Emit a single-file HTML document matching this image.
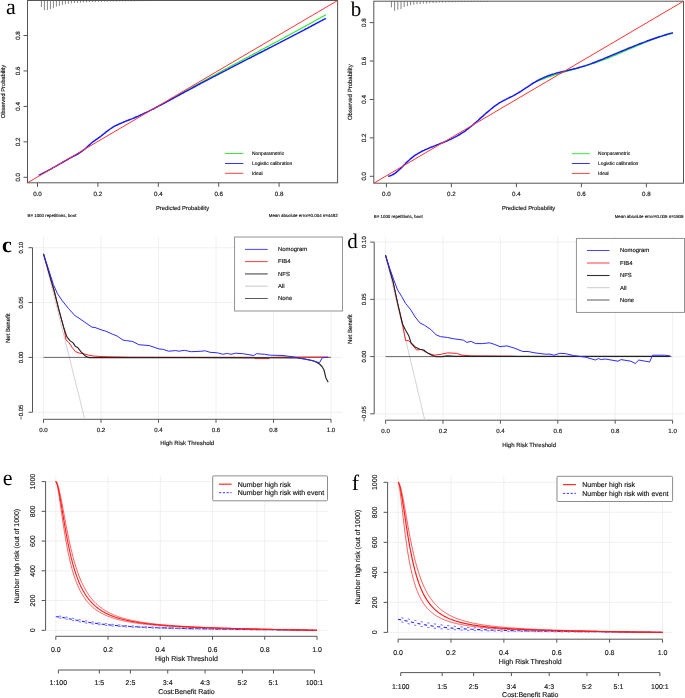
<!DOCTYPE html>
<html><head><meta charset="utf-8"><style>
html,body{margin:0;padding:0;background:#fff;}
svg{display:block;will-change:transform;}
text{dominant-baseline:central;text-rendering:geometricPrecision;}
.t{font-family:"Liberation Sans",sans-serif;fill:#111;stroke:#111;stroke-width:0.14px;}
.l{font-family:"Liberation Serif",serif;fill:#000;}
</style></head><body>
<svg width="685" height="698" viewBox="0 0 685 698">
<rect width="685" height="698" fill="#fff"/>
<line x1="41.40" y1="0.50" x2="41.40" y2="7.10" stroke="#777" stroke-width="0.9" />
<line x1="44.40" y1="0.50" x2="44.40" y2="10.10" stroke="#777" stroke-width="0.9" />
<line x1="47.40" y1="0.50" x2="47.40" y2="10.00" stroke="#777" stroke-width="0.9" />
<line x1="50.40" y1="0.50" x2="50.40" y2="9.00" stroke="#777" stroke-width="0.9" />
<line x1="53.40" y1="0.50" x2="53.40" y2="8.20" stroke="#777" stroke-width="0.9" />
<line x1="56.40" y1="0.50" x2="56.40" y2="6.60" stroke="#777" stroke-width="0.9" />
<line x1="59.40" y1="0.50" x2="59.40" y2="5.90" stroke="#777" stroke-width="0.9" />
<line x1="62.40" y1="0.50" x2="62.40" y2="4.90" stroke="#777" stroke-width="0.9" />
<line x1="65.40" y1="0.50" x2="65.40" y2="4.20" stroke="#777" stroke-width="0.9" />
<line x1="68.40" y1="0.50" x2="68.40" y2="3.80" stroke="#777" stroke-width="0.9" />
<line x1="71.40" y1="0.50" x2="71.40" y2="3.30" stroke="#777" stroke-width="0.9" />
<line x1="74.40" y1="0.50" x2="74.40" y2="3.10" stroke="#777" stroke-width="0.9" />
<line x1="77.40" y1="0.50" x2="77.40" y2="2.90" stroke="#777" stroke-width="0.9" />
<line x1="80.40" y1="0.50" x2="80.40" y2="2.70" stroke="#777" stroke-width="0.9" />
<line x1="83.40" y1="0.50" x2="83.40" y2="2.40" stroke="#777" stroke-width="0.9" />
<line x1="86.40" y1="0.50" x2="86.40" y2="2.40" stroke="#777" stroke-width="0.9" />
<line x1="89.40" y1="0.50" x2="89.40" y2="2.20" stroke="#777" stroke-width="0.9" />
<line x1="92.40" y1="0.50" x2="92.40" y2="2.10" stroke="#777" stroke-width="0.9" />
<line x1="95.40" y1="0.50" x2="95.40" y2="2.00" stroke="#777" stroke-width="0.9" />
<line x1="98.40" y1="0.50" x2="98.40" y2="1.90" stroke="#777" stroke-width="0.9" />
<line x1="101.40" y1="0.50" x2="101.40" y2="1.80" stroke="#777" stroke-width="0.9" />
<line x1="104.40" y1="0.50" x2="104.40" y2="1.70" stroke="#777" stroke-width="0.9" />
<line x1="107.40" y1="0.50" x2="107.40" y2="1.60" stroke="#777" stroke-width="0.9" />
<line x1="110.40" y1="0.50" x2="110.40" y2="1.50" stroke="#777" stroke-width="0.9" />
<line x1="113.40" y1="0.50" x2="113.40" y2="1.50" stroke="#777" stroke-width="0.9" />
<line x1="116.40" y1="0.50" x2="116.40" y2="1.50" stroke="#777" stroke-width="0.9" />
<line x1="119.40" y1="0.50" x2="119.40" y2="1.40" stroke="#777" stroke-width="0.9" />
<line x1="122.40" y1="0.50" x2="122.40" y2="1.40" stroke="#777" stroke-width="0.9" />
<line x1="125.40" y1="0.50" x2="125.40" y2="1.40" stroke="#777" stroke-width="0.9" />
<line x1="128.40" y1="0.50" x2="128.40" y2="1.30" stroke="#777" stroke-width="0.9" />
<line x1="131.40" y1="0.50" x2="131.40" y2="1.30" stroke="#777" stroke-width="0.9" />
<line x1="134.40" y1="0.50" x2="134.40" y2="1.30" stroke="#777" stroke-width="0.9" />
<line x1="137.40" y1="0.50" x2="137.40" y2="1.20" stroke="#777" stroke-width="0.9" />
<line x1="140.40" y1="0.50" x2="140.40" y2="1.20" stroke="#777" stroke-width="0.9" />
<line x1="143.40" y1="0.50" x2="143.40" y2="1.20" stroke="#777" stroke-width="0.9" />
<line x1="146.40" y1="0.50" x2="146.40" y2="1.10" stroke="#777" stroke-width="0.9" />
<line x1="149.40" y1="0.50" x2="149.40" y2="1.10" stroke="#777" stroke-width="0.9" />
<rect x="27.5" y="0.5" width="310.1" height="182.3" fill="none" stroke="#555" stroke-width="1"/>
<line x1="37.50" y1="182.80" x2="37.50" y2="186.80" stroke="#555" stroke-width="1" />
<text class="t" x="37.50" y="194.90" font-size="6.2" text-anchor="middle">0.0</text>
<line x1="97.90" y1="182.80" x2="97.90" y2="186.80" stroke="#555" stroke-width="1" />
<text class="t" x="97.90" y="194.90" font-size="6.2" text-anchor="middle">0.2</text>
<line x1="158.30" y1="182.80" x2="158.30" y2="186.80" stroke="#555" stroke-width="1" />
<text class="t" x="158.30" y="194.90" font-size="6.2" text-anchor="middle">0.4</text>
<line x1="218.70" y1="182.80" x2="218.70" y2="186.80" stroke="#555" stroke-width="1" />
<text class="t" x="218.70" y="194.90" font-size="6.2" text-anchor="middle">0.6</text>
<line x1="279.10" y1="182.80" x2="279.10" y2="186.80" stroke="#555" stroke-width="1" />
<text class="t" x="279.10" y="194.90" font-size="6.2" text-anchor="middle">0.8</text>
<line x1="27.50" y1="177.30" x2="23.50" y2="177.30" stroke="#555" stroke-width="1" />
<text class="t" x="18.30" y="177.30" font-size="6.2" text-anchor="middle" transform="rotate(-90 18.30 177.30)">0.0</text>
<line x1="27.50" y1="141.85" x2="23.50" y2="141.85" stroke="#555" stroke-width="1" />
<text class="t" x="18.30" y="141.85" font-size="6.2" text-anchor="middle" transform="rotate(-90 18.30 141.85)">0.2</text>
<line x1="27.50" y1="106.40" x2="23.50" y2="106.40" stroke="#555" stroke-width="1" />
<text class="t" x="18.30" y="106.40" font-size="6.2" text-anchor="middle" transform="rotate(-90 18.30 106.40)">0.4</text>
<line x1="27.50" y1="70.95" x2="23.50" y2="70.95" stroke="#555" stroke-width="1" />
<text class="t" x="18.30" y="70.95" font-size="6.2" text-anchor="middle" transform="rotate(-90 18.30 70.95)">0.6</text>
<line x1="27.50" y1="35.50" x2="23.50" y2="35.50" stroke="#555" stroke-width="1" />
<text class="t" x="18.30" y="35.50" font-size="6.2" text-anchor="middle" transform="rotate(-90 18.30 35.50)">0.8</text>
<text class="t" x="182.55" y="208.50" font-size="5.8" text-anchor="middle">Predicted Probability</text>
<text class="t" x="3.85" y="91.65" font-size="5.75" text-anchor="middle" transform="rotate(-90 3.85 91.65)">Observed Probability</text>
<text class="t" x="27.50" y="215.50" font-size="4.4">B= 1000 repetitions, boot</text>
<text class="t" x="337.60" y="215.50" font-size="4.4" text-anchor="end">Mean absolute error=0.004 n=4482</text>
<clipPath id="clip0"><rect x="27.5" y="0.5" width="310.1" height="182.3"/></clipPath>
<path d="M160.3,105.3 L162.4,104.1 L164.5,102.9 L166.6,101.7 L168.7,100.5 L170.8,99.3 L172.9,98.1 L175.0,96.9 L177.1,95.7 L179.2,94.5 L181.3,93.3 L183.4,92.2 L185.5,91.0 L187.6,89.8 L189.6,88.6 L191.7,87.5 L193.8,86.3 L195.9,85.2 L198.0,84.0 L200.1,82.9 L202.2,81.7 L204.3,80.6 L206.4,79.4 L208.5,78.3 L210.6,77.1 L212.7,76.0 L214.8,74.9 L216.9,73.7 L219.0,72.6 L221.1,71.5 L223.2,70.3 L225.3,69.2 L227.4,68.1 L229.5,66.9 L231.6,65.8 L233.7,64.7 L235.8,63.6 L237.9,62.5 L240.0,61.3 L242.1,60.2 L244.1,59.1 L246.2,58.0 L248.3,56.9 L250.4,55.7 L252.5,54.6 L254.6,53.5 L256.7,52.4 L258.8,51.3 L260.9,50.1 L263.0,49.0 L265.1,47.9 L267.2,46.8 L269.3,45.7 L271.4,44.5 L273.5,43.4 L275.6,42.3 L277.7,41.2 L279.8,40.0 L281.9,38.9 L284.0,37.8 L286.1,36.6 L288.2,35.5 L290.3,34.4 L292.4,33.2 L294.5,32.1 L296.6,30.9 L298.6,29.8 L300.7,28.7 L302.8,27.5 L304.9,26.4 L307.0,25.2 L309.1,24.1 L311.2,22.9 L313.3,21.7 L315.4,20.6 L317.5,19.4 L319.6,18.2 L321.7,17.1 L323.8,15.9 L325.9,14.7" fill="none" stroke="#22ee22" stroke-width="1.1" stroke-linejoin="round" />
<path d="M38.7,175.2 L40.1,174.6 L41.6,173.9 L43.0,173.2 L44.5,172.4 L45.9,171.7 L47.4,170.9 L48.8,170.1 L50.2,169.4 L51.7,168.6 L53.1,167.7 L54.6,166.9 L56.0,166.1 L57.5,165.3 L58.9,164.4 L60.3,163.6 L61.8,162.8 L63.2,162.0 L64.7,161.1 L66.1,160.3 L67.6,159.5 L69.0,158.7 L70.5,157.9 L71.9,157.2 L73.3,156.4 L74.8,155.6 L76.2,154.8 L77.7,154.0 L79.1,153.1 L80.6,152.2 L82.0,151.2 L83.4,150.1 L84.9,149.0 L86.3,147.7 L87.8,146.4 L89.2,145.1 L90.7,143.8 L92.1,142.5 L93.5,141.4 L95.0,140.4 L96.4,139.4 L97.9,138.4 L99.3,137.3 L100.8,136.3 L102.2,135.1 L103.6,134.0 L105.1,132.8 L106.5,131.7 L108.0,130.6 L109.4,129.5 L110.9,128.5 L112.3,127.6 L113.7,126.7 L115.2,125.9 L116.6,125.2 L118.1,124.5 L119.5,123.8 L121.0,123.2 L122.4,122.6 L123.8,122.0 L125.3,121.4 L126.7,120.8 L128.2,120.3 L129.6,119.7 L131.1,119.1 L132.5,118.6 L134.0,118.0 L135.4,117.3 L136.8,116.7 L138.3,116.1 L139.7,115.4 L141.2,114.8 L142.6,114.1 L144.1,113.4 L145.5,112.8 L146.9,112.1 L148.4,111.4 L149.8,110.6 L151.3,109.9 L152.7,109.2 L154.2,108.5 L155.6,107.7 L157.0,107.0 L158.5,106.2 L159.9,105.4 L161.4,104.7 L162.8,103.9 L164.3,103.1 L165.7,102.4 L167.1,101.6 L168.6,100.8 L170.0,100.0 L171.5,99.2 L172.9,98.5 L174.4,97.7 L175.8,96.9 L177.2,96.1 L178.7,95.3 L180.1,94.5 L181.6,93.7 L183.0,93.0 L184.5,92.2 L185.9,91.4 L187.4,90.6 L188.8,89.8 L190.2,89.1 L191.7,88.3 L193.1,87.5 L194.6,86.8 L196.0,86.0 L197.5,85.2 L198.9,84.5 L200.3,83.7 L201.8,82.9 L203.2,82.2 L204.7,81.4 L206.1,80.6 L207.6,79.9 L209.0,79.1 L210.4,78.4 L211.9,77.6 L213.3,76.9 L214.8,76.1 L216.2,75.4 L217.7,74.6 L219.1,73.8 L220.5,73.1 L222.0,72.3 L223.4,71.6 L224.9,70.9 L226.3,70.1 L227.8,69.4 L229.2,68.6 L230.6,67.9 L232.1,67.1 L233.5,66.4 L235.0,65.6 L236.4,64.9 L237.9,64.1 L239.3,63.4 L240.8,62.6 L242.2,61.9 L243.6,61.2 L245.1,60.4 L246.5,59.7 L248.0,58.9 L249.4,58.2 L250.9,57.5 L252.3,56.7 L253.7,56.0 L255.2,55.2 L256.6,54.5 L258.1,53.7 L259.5,53.0 L261.0,52.3 L262.4,51.5 L263.8,50.8 L265.3,50.0 L266.7,49.3 L268.2,48.5 L269.6,47.8 L271.1,47.1 L272.5,46.3 L273.9,45.6 L275.4,44.8 L276.8,44.1 L278.3,43.3 L279.7,42.6 L281.2,41.8 L282.6,41.1 L284.0,40.4 L285.5,39.6 L286.9,38.9 L288.4,38.1 L289.8,37.4 L291.3,36.6 L292.7,35.9 L294.1,35.1 L295.6,34.3 L297.0,33.6 L298.5,32.8 L299.9,32.1 L301.4,31.3 L302.8,30.6 L304.3,29.8 L305.7,29.0 L307.1,28.3 L308.6,27.5 L310.0,26.8 L311.5,26.0 L312.9,25.2 L314.4,24.5 L315.8,23.7 L317.2,22.9 L318.7,22.2 L320.1,21.4 L321.6,20.6 L323.0,19.8 L324.5,19.1 L325.9,18.3" fill="none" stroke="#1a1aff" stroke-width="1.5" stroke-linejoin="round" />
<line x1="27.50" y1="182.80" x2="337.60" y2="0.50" stroke="#ff3333" stroke-width="1" clip-path="url(#clip0)"/>
<line x1="225.00" y1="153.50" x2="243.30" y2="153.50" stroke="#33ee33" stroke-width="1" />
<text class="t" x="252.00" y="154.70" font-size="4.9">Nonparametric</text>
<line x1="225.00" y1="163.50" x2="243.30" y2="163.50" stroke="#3333ff" stroke-width="1" />
<text class="t" x="252.00" y="164.70" font-size="4.9">Logistic calibration</text>
<line x1="225.00" y1="173.30" x2="243.30" y2="173.30" stroke="#ff4444" stroke-width="1" />
<text class="t" x="252.00" y="174.50" font-size="4.9">Ideal</text>
<text class="l" x="10.80" y="6.10" font-size="22" text-anchor="middle">a</text>
<line x1="391.40" y1="1.20" x2="391.40" y2="7.40" stroke="#777" stroke-width="0.9" />
<line x1="394.60" y1="1.20" x2="394.60" y2="10.80" stroke="#777" stroke-width="0.9" />
<line x1="397.80" y1="1.20" x2="397.80" y2="9.90" stroke="#777" stroke-width="0.9" />
<line x1="401.00" y1="1.20" x2="401.00" y2="9.10" stroke="#777" stroke-width="0.9" />
<line x1="404.20" y1="1.20" x2="404.20" y2="7.00" stroke="#777" stroke-width="0.9" />
<line x1="407.40" y1="1.20" x2="407.40" y2="6.10" stroke="#777" stroke-width="0.9" />
<line x1="410.60" y1="1.20" x2="410.60" y2="5.20" stroke="#777" stroke-width="0.9" />
<line x1="413.80" y1="1.20" x2="413.80" y2="4.80" stroke="#777" stroke-width="0.9" />
<line x1="417.00" y1="1.20" x2="417.00" y2="4.30" stroke="#777" stroke-width="0.9" />
<line x1="420.20" y1="1.20" x2="420.20" y2="4.10" stroke="#777" stroke-width="0.9" />
<line x1="423.40" y1="1.20" x2="423.40" y2="3.60" stroke="#777" stroke-width="0.9" />
<line x1="426.60" y1="1.20" x2="426.60" y2="3.50" stroke="#777" stroke-width="0.9" />
<line x1="429.80" y1="1.20" x2="429.80" y2="3.20" stroke="#777" stroke-width="0.9" />
<line x1="433.00" y1="1.20" x2="433.00" y2="3.00" stroke="#777" stroke-width="0.9" />
<line x1="436.20" y1="1.20" x2="436.20" y2="2.80" stroke="#777" stroke-width="0.9" />
<line x1="439.40" y1="1.20" x2="439.40" y2="2.60" stroke="#777" stroke-width="0.9" />
<line x1="442.60" y1="1.20" x2="442.60" y2="2.50" stroke="#777" stroke-width="0.9" />
<line x1="445.80" y1="1.20" x2="445.80" y2="2.40" stroke="#777" stroke-width="0.9" />
<line x1="449.00" y1="1.20" x2="449.00" y2="2.30" stroke="#777" stroke-width="0.9" />
<line x1="452.20" y1="1.20" x2="452.20" y2="2.30" stroke="#777" stroke-width="0.9" />
<line x1="455.40" y1="1.20" x2="455.40" y2="2.20" stroke="#777" stroke-width="0.9" />
<line x1="458.60" y1="1.20" x2="458.60" y2="2.20" stroke="#777" stroke-width="0.9" />
<line x1="461.80" y1="1.20" x2="461.80" y2="2.10" stroke="#777" stroke-width="0.9" />
<line x1="465.00" y1="1.20" x2="465.00" y2="2.10" stroke="#777" stroke-width="0.9" />
<line x1="468.20" y1="1.20" x2="468.20" y2="2.10" stroke="#777" stroke-width="0.9" />
<line x1="471.40" y1="1.20" x2="471.40" y2="2.00" stroke="#777" stroke-width="0.9" />
<line x1="474.60" y1="1.20" x2="474.60" y2="2.00" stroke="#777" stroke-width="0.9" />
<line x1="477.80" y1="1.20" x2="477.80" y2="1.90" stroke="#777" stroke-width="0.9" />
<line x1="481.00" y1="1.20" x2="481.00" y2="1.90" stroke="#777" stroke-width="0.9" />
<line x1="484.20" y1="1.20" x2="484.20" y2="1.80" stroke="#777" stroke-width="0.9" />
<line x1="487.40" y1="1.20" x2="487.40" y2="1.80" stroke="#777" stroke-width="0.9" />
<rect x="373.8" y="1.2" width="309.7" height="182.0" fill="none" stroke="#555" stroke-width="1"/>
<line x1="386.40" y1="183.20" x2="386.40" y2="187.20" stroke="#555" stroke-width="1" />
<text class="t" x="386.40" y="194.90" font-size="6.2" text-anchor="middle">0.0</text>
<line x1="451.40" y1="183.20" x2="451.40" y2="187.20" stroke="#555" stroke-width="1" />
<text class="t" x="451.40" y="194.90" font-size="6.2" text-anchor="middle">0.2</text>
<line x1="516.40" y1="183.20" x2="516.40" y2="187.20" stroke="#555" stroke-width="1" />
<text class="t" x="516.40" y="194.90" font-size="6.2" text-anchor="middle">0.4</text>
<line x1="581.40" y1="183.20" x2="581.40" y2="187.20" stroke="#555" stroke-width="1" />
<text class="t" x="581.40" y="194.90" font-size="6.2" text-anchor="middle">0.6</text>
<line x1="646.40" y1="183.20" x2="646.40" y2="187.20" stroke="#555" stroke-width="1" />
<text class="t" x="646.40" y="194.90" font-size="6.2" text-anchor="middle">0.8</text>
<line x1="373.80" y1="176.30" x2="369.80" y2="176.30" stroke="#555" stroke-width="1" />
<text class="t" x="364.35" y="176.30" font-size="6.2" text-anchor="middle" transform="rotate(-90 364.35 176.30)">0.0</text>
<line x1="373.80" y1="137.88" x2="369.80" y2="137.88" stroke="#555" stroke-width="1" />
<text class="t" x="364.35" y="137.88" font-size="6.2" text-anchor="middle" transform="rotate(-90 364.35 137.88)">0.2</text>
<line x1="373.80" y1="99.46" x2="369.80" y2="99.46" stroke="#555" stroke-width="1" />
<text class="t" x="364.35" y="99.46" font-size="6.2" text-anchor="middle" transform="rotate(-90 364.35 99.46)">0.4</text>
<line x1="373.80" y1="61.04" x2="369.80" y2="61.04" stroke="#555" stroke-width="1" />
<text class="t" x="364.35" y="61.04" font-size="6.2" text-anchor="middle" transform="rotate(-90 364.35 61.04)">0.6</text>
<line x1="373.80" y1="22.62" x2="369.80" y2="22.62" stroke="#555" stroke-width="1" />
<text class="t" x="364.35" y="22.62" font-size="6.2" text-anchor="middle" transform="rotate(-90 364.35 22.62)">0.8</text>
<text class="t" x="528.65" y="208.50" font-size="5.8" text-anchor="middle">Predicted Probability</text>
<text class="t" x="350.90" y="92.20" font-size="6.0" text-anchor="middle" transform="rotate(-90 350.90 92.20)">Observed Probability</text>
<text class="t" x="373.80" y="216.00" font-size="4.4">B= 1000 repetitions, boot</text>
<text class="t" x="683.50" y="216.00" font-size="4.4" text-anchor="end">Mean absolute error=0.005 n=1909</text>
<clipPath id="clip342"><rect x="373.8" y="1.2" width="309.7" height="182.0"/></clipPath>
<path d="M532.7,83.1 L534.5,82.4 L536.2,81.6 L538.0,80.9 L539.8,80.2 L541.6,79.5 L543.3,78.9 L545.1,78.2 L546.9,77.6 L548.7,77.0 L550.4,76.4 L552.2,75.8 L554.0,75.2 L555.8,74.6 L557.5,74.1 L559.3,73.5 L561.1,73.0 L562.9,72.5 L564.6,72.0 L566.4,71.4 L568.2,70.9 L570.0,70.4 L571.7,69.9 L573.5,69.4 L575.3,68.9 L577.1,68.4 L578.8,67.9 L580.6,67.3 L582.4,66.8 L584.2,66.3 L585.9,65.8 L587.7,65.2 L589.5,64.7 L591.3,64.1 L593.0,63.5 L594.8,63.0 L596.6,62.4 L598.4,61.8 L600.1,61.1 L601.9,60.5 L603.7,59.8 L605.5,59.2 L607.2,58.5 L609.0,57.8 L610.8,57.1 L612.6,56.3 L614.3,55.6 L616.1,54.9 L617.9,54.1 L619.7,53.4 L621.4,52.6 L623.2,51.8 L625.0,51.1 L626.8,50.3 L628.5,49.5 L630.3,48.8 L632.1,48.0 L633.9,47.2 L635.6,46.5 L637.4,45.7 L639.2,45.0 L641.0,44.2 L642.7,43.5 L644.5,42.7 L646.3,42.0 L648.1,41.3 L649.8,40.6 L651.6,39.9 L653.4,39.3 L655.2,38.6 L656.9,38.0 L658.7,37.4 L660.5,36.8 L662.3,36.2 L664.0,35.6 L665.8,35.1 L667.6,34.6 L669.4,34.1 L671.1,33.6 L672.9,33.2" fill="none" stroke="#22ee22" stroke-width="1.1" stroke-linejoin="round" />
<path d="M388.1,176.3 L389.5,176.0 L391.0,175.5 L392.4,174.9 L393.8,174.0 L395.3,173.1 L396.7,171.9 L398.1,170.7 L399.5,169.4 L401.0,168.1 L402.4,166.7 L403.8,165.2 L405.3,163.8 L406.7,162.4 L408.1,161.0 L409.6,159.7 L411.0,158.4 L412.4,157.3 L413.9,156.2 L415.3,155.2 L416.7,154.3 L418.2,153.4 L419.6,152.6 L421.0,151.8 L422.4,151.0 L423.9,150.4 L425.3,149.7 L426.7,149.1 L428.2,148.5 L429.6,147.9 L431.0,147.3 L432.5,146.7 L433.9,146.1 L435.3,145.6 L436.8,145.0 L438.2,144.5 L439.6,143.9 L441.1,143.3 L442.5,142.8 L443.9,142.2 L445.3,141.6 L446.8,141.0 L448.2,140.4 L449.6,139.7 L451.1,139.1 L452.5,138.4 L453.9,137.7 L455.4,136.9 L456.8,136.2 L458.2,135.4 L459.7,134.5 L461.1,133.6 L462.5,132.7 L464.0,131.8 L465.4,130.8 L466.8,129.7 L468.2,128.6 L469.7,127.5 L471.1,126.4 L472.5,125.2 L474.0,123.9 L475.4,122.7 L476.8,121.5 L478.3,120.2 L479.7,118.9 L481.1,117.6 L482.6,116.4 L484.0,115.1 L485.4,113.8 L486.8,112.6 L488.3,111.4 L489.7,110.2 L491.1,109.0 L492.6,107.8 L494.0,106.7 L495.4,105.7 L496.9,104.6 L498.3,103.7 L499.7,102.7 L501.2,101.9 L502.6,101.1 L504.0,100.3 L505.5,99.6 L506.9,98.9 L508.3,98.2 L509.7,97.5 L511.2,96.8 L512.6,96.1 L514.0,95.3 L515.5,94.5 L516.9,93.7 L518.3,92.9 L519.8,92.0 L521.2,91.1 L522.6,90.1 L524.1,89.2 L525.5,88.2 L526.9,87.3 L528.4,86.3 L529.8,85.4 L531.2,84.4 L532.6,83.5 L534.1,82.6 L535.5,81.8 L536.9,81.0 L538.4,80.2 L539.8,79.5 L541.2,78.8 L542.7,78.1 L544.1,77.5 L545.5,76.9 L547.0,76.3 L548.4,75.8 L549.8,75.3 L551.3,74.8 L552.7,74.3 L554.1,73.9 L555.5,73.4 L557.0,73.0 L558.4,72.6 L559.8,72.3 L561.3,71.9 L562.7,71.6 L564.1,71.2 L565.6,70.9 L567.0,70.5 L568.4,70.2 L569.9,69.8 L571.3,69.5 L572.7,69.2 L574.2,68.8 L575.6,68.5 L577.0,68.1 L578.4,67.7 L579.9,67.3 L581.3,66.9 L582.7,66.5 L584.2,66.0 L585.6,65.6 L587.0,65.1 L588.5,64.6 L589.9,64.1 L591.3,63.6 L592.8,63.0 L594.2,62.5 L595.6,62.0 L597.0,61.4 L598.5,60.8 L599.9,60.3 L601.3,59.7 L602.8,59.1 L604.2,58.5 L605.6,57.9 L607.1,57.3 L608.5,56.7 L609.9,56.1 L611.4,55.5 L612.8,54.9 L614.2,54.3 L615.7,53.7 L617.1,53.1 L618.5,52.5 L619.9,51.9 L621.4,51.3 L622.8,50.7 L624.2,50.1 L625.7,49.5 L627.1,48.9 L628.5,48.3 L630.0,47.7 L631.4,47.2 L632.8,46.6 L634.3,46.0 L635.7,45.4 L637.1,44.9 L638.6,44.3 L640.0,43.7 L641.4,43.2 L642.8,42.6 L644.3,42.1 L645.7,41.6 L647.1,41.0 L648.6,40.5 L650.0,40.0 L651.4,39.5 L652.9,39.0 L654.3,38.5 L655.7,38.0 L657.2,37.5 L658.6,37.0 L660.0,36.5 L661.5,36.1 L662.9,35.6 L664.3,35.2 L665.7,34.7 L667.2,34.3 L668.6,33.9 L670.0,33.5 L671.5,33.1 L672.9,32.7" fill="none" stroke="#1a1aff" stroke-width="1.5" stroke-linejoin="round" />
<line x1="373.80" y1="183.20" x2="683.50" y2="1.20" stroke="#ff3333" stroke-width="1" clip-path="url(#clip342)"/>
<line x1="571.80" y1="153.70" x2="589.80" y2="153.70" stroke="#33ee33" stroke-width="1" />
<text class="t" x="598.10" y="154.90" font-size="4.9">Nonparametric</text>
<line x1="571.80" y1="163.50" x2="589.80" y2="163.50" stroke="#3333ff" stroke-width="1" />
<text class="t" x="598.10" y="164.70" font-size="4.9">Logistic calibration</text>
<line x1="571.80" y1="173.40" x2="589.80" y2="173.40" stroke="#ff4444" stroke-width="1" />
<text class="t" x="598.10" y="174.60" font-size="4.9">Ideal</text>
<text class="l" x="356.00" y="9.00" font-size="21" text-anchor="middle">b</text>
<line x1="43.50" y1="236.90" x2="43.50" y2="419.30" stroke="#ececec" stroke-width="0.8" />
<line x1="101.00" y1="236.90" x2="101.00" y2="419.30" stroke="#ececec" stroke-width="0.8" />
<line x1="158.50" y1="236.90" x2="158.50" y2="419.30" stroke="#ececec" stroke-width="0.8" />
<line x1="216.00" y1="236.90" x2="216.00" y2="419.30" stroke="#ececec" stroke-width="0.8" />
<line x1="273.50" y1="236.90" x2="273.50" y2="419.30" stroke="#ececec" stroke-width="0.8" />
<line x1="331.00" y1="236.90" x2="331.00" y2="419.30" stroke="#ececec" stroke-width="0.8" />
<line x1="32.50" y1="247.70" x2="342.50" y2="247.70" stroke="#ececec" stroke-width="0.8" />
<line x1="32.50" y1="302.55" x2="342.50" y2="302.55" stroke="#ececec" stroke-width="0.8" />
<line x1="32.50" y1="357.40" x2="342.50" y2="357.40" stroke="#ececec" stroke-width="0.8" />
<line x1="32.50" y1="412.25" x2="342.50" y2="412.25" stroke="#ececec" stroke-width="0.8" />
<line x1="32.50" y1="247.70" x2="32.50" y2="412.25" stroke="#555" stroke-width="1" />
<line x1="32.50" y1="247.70" x2="28.50" y2="247.70" stroke="#555" stroke-width="1" />
<text class="t" x="22.40" y="247.70" font-size="6.0" text-anchor="middle" transform="rotate(-90 22.40 247.70)">0.10</text>
<line x1="32.50" y1="302.55" x2="28.50" y2="302.55" stroke="#555" stroke-width="1" />
<text class="t" x="22.40" y="302.55" font-size="6.0" text-anchor="middle" transform="rotate(-90 22.40 302.55)">0.05</text>
<line x1="32.50" y1="357.40" x2="28.50" y2="357.40" stroke="#555" stroke-width="1" />
<text class="t" x="22.40" y="357.40" font-size="6.0" text-anchor="middle" transform="rotate(-90 22.40 357.40)">0.00</text>
<line x1="32.50" y1="412.25" x2="28.50" y2="412.25" stroke="#555" stroke-width="1" />
<text class="t" x="22.40" y="412.25" font-size="6.0" text-anchor="middle" transform="rotate(-90 22.40 412.25)">−0.05</text>
<line x1="43.50" y1="419.30" x2="331.00" y2="419.30" stroke="#555" stroke-width="1" />
<line x1="43.50" y1="419.30" x2="43.50" y2="422.80" stroke="#555" stroke-width="1" />
<text class="t" x="43.50" y="430.20" font-size="6.1" text-anchor="middle">0.0</text>
<line x1="101.00" y1="419.30" x2="101.00" y2="422.80" stroke="#555" stroke-width="1" />
<text class="t" x="101.00" y="430.20" font-size="6.1" text-anchor="middle">0.2</text>
<line x1="158.50" y1="419.30" x2="158.50" y2="422.80" stroke="#555" stroke-width="1" />
<text class="t" x="158.50" y="430.20" font-size="6.1" text-anchor="middle">0.4</text>
<line x1="216.00" y1="419.30" x2="216.00" y2="422.80" stroke="#555" stroke-width="1" />
<text class="t" x="216.00" y="430.20" font-size="6.1" text-anchor="middle">0.6</text>
<line x1="273.50" y1="419.30" x2="273.50" y2="422.80" stroke="#555" stroke-width="1" />
<text class="t" x="273.50" y="430.20" font-size="6.1" text-anchor="middle">0.8</text>
<line x1="331.00" y1="419.30" x2="331.00" y2="422.80" stroke="#555" stroke-width="1" />
<text class="t" x="331.00" y="430.20" font-size="6.1" text-anchor="middle">1.0</text>
<text class="t" x="187.25" y="444.40" font-size="6.0" text-anchor="middle">High Risk Threshold</text>
<text class="t" x="9.00" y="328.20" font-size="6.0" text-anchor="middle" transform="rotate(-90 9.00 328.20)">Net Benefit</text>
<clipPath id="clipd0"><rect x="32.5" y="236.9" width="310.0" height="182.4"/></clipPath>
<line x1="43.50" y1="253.90" x2="84.80" y2="419.30" stroke="#c8c8c8" stroke-width="0.8" />
<line x1="43.50" y1="357.40" x2="331.00" y2="357.40" stroke="#666" stroke-width="1" />
<path d="M43.5,253.9 L54.2,291.0 L58.9,309.8 L63.6,327.2 L64.4,330.3 L66.0,339.8 L69.1,342.9 L72.3,347.6 L75.4,351.6 L79.4,353.1 L84.1,353.9 L88.8,355.2 L93.5,356.0 L100.0,356.5 L110.0,356.8 L130.0,357.2 L180.0,357.3 L254.0,357.4 L255.0,358.6 L269.0,358.6 L270.0,357.5 L283.0,357.1 L328.2,357.0" fill="none" stroke="#ff2020" stroke-width="1" stroke-linejoin="round" />
<path d="M43.5,253.9 L54.2,291.0 L58.9,309.8 L63.6,327.2 L66.8,336.6 L69.9,340.6 L73.1,342.9 L75.4,346.4 L77.8,347.6 L80.9,351.6 L85.7,356.3 L88.8,357.6 L200.0,357.6 L297.6,358.0 L305.0,359.0 L312.2,360.5 L316.0,362.0 L319.5,364.0 L322.0,366.5 L324.0,370.0 L325.9,378.0 L328.2,382.2" fill="none" stroke="#222" stroke-width="1.1" stroke-linejoin="round" />
<path d="M43.5,253.9 L47.9,267.3 L53.4,284.6 L57.3,293.3 L62.0,300.4 L68.3,308.3 L75.4,316.1 L77.8,317.4 L84.1,321.7 L92.0,327.2 L95.0,327.5 L102.0,330.1 L105.5,331.0 L112.5,334.2 L116.9,335.9 L123.0,340.1 L126.5,340.6 L132.7,341.5 L138.8,344.7 L149.3,345.6 L158.9,348.9 L163.3,349.4 L168.6,351.2 L175.6,350.6 L179.1,351.2 L184.3,350.3 L191.3,351.7 L200.1,351.3 L205.3,350.8 L210.0,352.3 L217.3,352.8 L222.8,354.3 L227.3,353.4 L231.0,354.3 L235.5,353.2 L242.8,353.7 L253.8,355.5 L256.5,353.7 L264.7,354.3 L270.2,355.2 L283.0,355.5 L293.9,357.0 L304.9,359.2 L314.0,361.0 L319.5,362.8 L322.2,357.7 L328.2,357.4" fill="none" stroke="#2a2aff" stroke-width="1" stroke-linejoin="round" />
<rect x="234.6" y="237" width="107.9" height="74" fill="#fff" stroke="#888" stroke-width="0.9"/>
<line x1="245.00" y1="249.40" x2="267.70" y2="249.40" stroke="#4646ff" stroke-width="1" />
<text class="t" x="278.10" y="250.20" font-size="5.9">Nomogram</text>
<line x1="245.00" y1="261.60" x2="267.70" y2="261.60" stroke="#ff3c3c" stroke-width="1" />
<text class="t" x="278.10" y="262.40" font-size="5.9">FIB4</text>
<line x1="245.00" y1="273.90" x2="267.70" y2="273.90" stroke="#8a8a8a" stroke-width="1.7" />
<text class="t" x="278.10" y="274.70" font-size="5.9">NFS</text>
<line x1="245.00" y1="286.20" x2="267.70" y2="286.20" stroke="#bdbdbd" stroke-width="0.8" />
<text class="t" x="278.10" y="287.00" font-size="5.9">All</text>
<line x1="245.00" y1="298.50" x2="267.70" y2="298.50" stroke="#5a5a5a" stroke-width="1" />
<text class="t" x="278.10" y="299.30" font-size="5.9">None</text>
<text class="l" x="7.00" y="244.40" font-size="22" text-anchor="middle" font-weight="bold">c</text>
<line x1="385.60" y1="236.90" x2="385.60" y2="420.20" stroke="#ececec" stroke-width="0.8" />
<line x1="443.00" y1="236.90" x2="443.00" y2="420.20" stroke="#ececec" stroke-width="0.8" />
<line x1="500.40" y1="236.90" x2="500.40" y2="420.20" stroke="#ececec" stroke-width="0.8" />
<line x1="557.80" y1="236.90" x2="557.80" y2="420.20" stroke="#ececec" stroke-width="0.8" />
<line x1="615.20" y1="236.90" x2="615.20" y2="420.20" stroke="#ececec" stroke-width="0.8" />
<line x1="672.60" y1="236.90" x2="672.60" y2="420.20" stroke="#ececec" stroke-width="0.8" />
<line x1="374.20" y1="242.10" x2="684.50" y2="242.10" stroke="#ececec" stroke-width="0.8" />
<line x1="374.20" y1="299.35" x2="684.50" y2="299.35" stroke="#ececec" stroke-width="0.8" />
<line x1="374.20" y1="356.60" x2="684.50" y2="356.60" stroke="#ececec" stroke-width="0.8" />
<line x1="374.20" y1="413.85" x2="684.50" y2="413.85" stroke="#ececec" stroke-width="0.8" />
<line x1="374.20" y1="242.10" x2="374.20" y2="413.85" stroke="#555" stroke-width="1" />
<line x1="374.20" y1="242.10" x2="370.20" y2="242.10" stroke="#555" stroke-width="1" />
<text class="t" x="364.90" y="242.10" font-size="6.0" text-anchor="middle" transform="rotate(-90 364.90 242.10)">0.10</text>
<line x1="374.20" y1="299.35" x2="370.20" y2="299.35" stroke="#555" stroke-width="1" />
<text class="t" x="364.90" y="299.35" font-size="6.0" text-anchor="middle" transform="rotate(-90 364.90 299.35)">0.05</text>
<line x1="374.20" y1="356.60" x2="370.20" y2="356.60" stroke="#555" stroke-width="1" />
<text class="t" x="364.90" y="356.60" font-size="6.0" text-anchor="middle" transform="rotate(-90 364.90 356.60)">0.00</text>
<line x1="374.20" y1="413.85" x2="370.20" y2="413.85" stroke="#555" stroke-width="1" />
<text class="t" x="364.90" y="413.85" font-size="6.0" text-anchor="middle" transform="rotate(-90 364.90 413.85)">−0.05</text>
<line x1="385.60" y1="420.20" x2="672.60" y2="420.20" stroke="#555" stroke-width="1" />
<line x1="385.60" y1="420.20" x2="385.60" y2="423.70" stroke="#555" stroke-width="1" />
<text class="t" x="385.60" y="431.50" font-size="6.1" text-anchor="middle">0.0</text>
<line x1="443.00" y1="420.20" x2="443.00" y2="423.70" stroke="#555" stroke-width="1" />
<text class="t" x="443.00" y="431.50" font-size="6.1" text-anchor="middle">0.2</text>
<line x1="500.40" y1="420.20" x2="500.40" y2="423.70" stroke="#555" stroke-width="1" />
<text class="t" x="500.40" y="431.50" font-size="6.1" text-anchor="middle">0.4</text>
<line x1="557.80" y1="420.20" x2="557.80" y2="423.70" stroke="#555" stroke-width="1" />
<text class="t" x="557.80" y="431.50" font-size="6.1" text-anchor="middle">0.6</text>
<line x1="615.20" y1="420.20" x2="615.20" y2="423.70" stroke="#555" stroke-width="1" />
<text class="t" x="615.20" y="431.50" font-size="6.1" text-anchor="middle">0.8</text>
<line x1="672.60" y1="420.20" x2="672.60" y2="423.70" stroke="#555" stroke-width="1" />
<text class="t" x="672.60" y="431.50" font-size="6.1" text-anchor="middle">1.0</text>
<text class="t" x="529.10" y="445.60" font-size="6.0" text-anchor="middle">High Risk Threshold</text>
<text class="t" x="350.60" y="329.10" font-size="6.0" text-anchor="middle" transform="rotate(-90 350.60 329.10)">Net Benefit</text>
<clipPath id="clipd342"><rect x="374.2" y="236.9" width="310.3" height="183.29999999999998"/></clipPath>
<line x1="385.50" y1="255.20" x2="424.80" y2="420.20" stroke="#c8c8c8" stroke-width="0.8" />
<line x1="385.60" y1="356.60" x2="671.50" y2="356.60" stroke="#666" stroke-width="1" />
<path d="M385.5,255.2 L393.0,281.5 L397.7,303.5 L402.5,324.0 L405.6,340.6 L408.8,340.6 L411.9,344.5 L416.6,350.0 L421.4,349.5 L427.7,353.1 L434.0,355.2 L440.0,354.5 L447.5,352.9 L456.3,353.3 L461.5,355.0 L470.0,355.9 L515.8,356.3" fill="none" stroke="#ff2020" stroke-width="1" stroke-linejoin="round" />
<path d="M385.5,255.2 L393.0,281.5 L397.7,303.5 L402.5,324.0 L405.6,330.3 L408.8,335.8 L411.1,342.9 L415.1,346.9 L419.8,349.2 L423.7,350.0 L427.7,353.1 L432.4,355.5 L436.3,356.8 L442.0,356.6 L447.5,355.9 L455.0,356.4 L670.0,356.4" fill="none" stroke="#222" stroke-width="1.1" stroke-linejoin="round" />
<path d="M385.5,255.2 L389.9,268.9 L393.8,279.9 L397.7,290.2 L401.7,296.5 L405.6,303.5 L410.3,309.1 L415.1,316.9 L419.8,322.8 L424.5,325.3 L430.8,329.5 L436.3,335.0 L440.5,336.6 L447.5,337.5 L454.5,338.9 L463.3,340.1 L466.8,342.4 L471.2,341.4 L475.5,343.6 L482.5,343.6 L489.5,342.8 L494.8,344.5 L500.0,346.6 L507.0,345.9 L514.0,348.0 L522.8,351.5 L528.0,351.5 L535.0,352.9 L545.6,354.2 L550.0,354.1 L553.9,355.2 L559.9,353.3 L565.8,353.7 L573.7,355.6 L585.5,357.2 L595.4,360.0 L598.3,358.6 L601.3,359.6 L605.2,359.0 L618.0,361.2 L621.0,359.6 L630.9,361.2 L635.2,363.5 L638.8,360.0 L649.6,362.0 L652.6,355.2 L664.4,355.2 L670.3,356.0" fill="none" stroke="#2a2aff" stroke-width="1" stroke-linejoin="round" />
<rect x="576.4" y="238.4" width="108.10000000000002" height="73.99999999999997" fill="#fff" stroke="#888" stroke-width="0.9"/>
<line x1="587.00" y1="250.50" x2="609.50" y2="250.50" stroke="#4646ff" stroke-width="1" />
<text class="t" x="620.00" y="251.30" font-size="5.9">Nomogram</text>
<line x1="587.00" y1="263.00" x2="609.50" y2="263.00" stroke="#ff3c3c" stroke-width="1" />
<text class="t" x="620.00" y="263.80" font-size="5.9">FIB4</text>
<line x1="587.00" y1="275.50" x2="609.50" y2="275.50" stroke="#333" stroke-width="1.1" />
<text class="t" x="620.00" y="276.30" font-size="5.9">NFS</text>
<line x1="587.00" y1="287.70" x2="609.50" y2="287.70" stroke="#bdbdbd" stroke-width="0.8" />
<text class="t" x="620.00" y="288.50" font-size="5.9">All</text>
<line x1="587.00" y1="300.00" x2="609.50" y2="300.00" stroke="#5a5a5a" stroke-width="1" />
<text class="t" x="620.00" y="300.80" font-size="5.9">None</text>
<text class="l" x="352.50" y="241.00" font-size="21" text-anchor="middle">d</text>
<line x1="55.80" y1="475.80" x2="55.80" y2="636.30" stroke="#ececec" stroke-width="0.8" />
<line x1="108.04" y1="475.80" x2="108.04" y2="636.30" stroke="#ececec" stroke-width="0.8" />
<line x1="160.28" y1="475.80" x2="160.28" y2="636.30" stroke="#ececec" stroke-width="0.8" />
<line x1="212.52" y1="475.80" x2="212.52" y2="636.30" stroke="#ececec" stroke-width="0.8" />
<line x1="264.76" y1="475.80" x2="264.76" y2="636.30" stroke="#ececec" stroke-width="0.8" />
<line x1="317.00" y1="475.80" x2="317.00" y2="636.30" stroke="#ececec" stroke-width="0.8" />
<line x1="45.60" y1="630.30" x2="327.50" y2="630.30" stroke="#ececec" stroke-width="0.8" />
<line x1="45.60" y1="600.56" x2="327.50" y2="600.56" stroke="#ececec" stroke-width="0.8" />
<line x1="45.60" y1="570.82" x2="327.50" y2="570.82" stroke="#ececec" stroke-width="0.8" />
<line x1="45.60" y1="541.08" x2="327.50" y2="541.08" stroke="#ececec" stroke-width="0.8" />
<line x1="45.60" y1="511.34" x2="327.50" y2="511.34" stroke="#ececec" stroke-width="0.8" />
<line x1="45.60" y1="481.60" x2="327.50" y2="481.60" stroke="#ececec" stroke-width="0.8" />
<line x1="45.60" y1="481.60" x2="45.60" y2="630.30" stroke="#555" stroke-width="1" />
<line x1="45.60" y1="630.30" x2="41.60" y2="630.30" stroke="#555" stroke-width="1" />
<text class="t" x="33.80" y="630.30" font-size="7.0" text-anchor="middle" transform="rotate(-90 33.80 630.30)">0</text>
<line x1="45.60" y1="600.56" x2="41.60" y2="600.56" stroke="#555" stroke-width="1" />
<text class="t" x="33.80" y="600.56" font-size="7.0" text-anchor="middle" transform="rotate(-90 33.80 600.56)">200</text>
<line x1="45.60" y1="570.82" x2="41.60" y2="570.82" stroke="#555" stroke-width="1" />
<text class="t" x="33.80" y="570.82" font-size="7.0" text-anchor="middle" transform="rotate(-90 33.80 570.82)">400</text>
<line x1="45.60" y1="541.08" x2="41.60" y2="541.08" stroke="#555" stroke-width="1" />
<text class="t" x="33.80" y="541.08" font-size="7.0" text-anchor="middle" transform="rotate(-90 33.80 541.08)">600</text>
<line x1="45.60" y1="511.34" x2="41.60" y2="511.34" stroke="#555" stroke-width="1" />
<text class="t" x="33.80" y="511.34" font-size="7.0" text-anchor="middle" transform="rotate(-90 33.80 511.34)">800</text>
<line x1="45.60" y1="481.60" x2="41.60" y2="481.60" stroke="#555" stroke-width="1" />
<text class="t" x="33.80" y="481.60" font-size="7.0" text-anchor="middle" transform="rotate(-90 33.80 481.60)">1000</text>
<text class="t" x="17.50" y="556.10" font-size="7.0" text-anchor="middle" transform="rotate(-90 17.50 556.10)">Number high risk (out of 1000)</text>
<line x1="55.80" y1="636.30" x2="317.00" y2="636.30" stroke="#555" stroke-width="1" />
<line x1="55.80" y1="636.30" x2="55.80" y2="639.80" stroke="#555" stroke-width="1" />
<text class="t" x="55.80" y="650.30" font-size="7.0" text-anchor="middle">0.0</text>
<line x1="108.04" y1="636.30" x2="108.04" y2="639.80" stroke="#555" stroke-width="1" />
<text class="t" x="108.04" y="650.30" font-size="7.0" text-anchor="middle">0.2</text>
<line x1="160.28" y1="636.30" x2="160.28" y2="639.80" stroke="#555" stroke-width="1" />
<text class="t" x="160.28" y="650.30" font-size="7.0" text-anchor="middle">0.4</text>
<line x1="212.52" y1="636.30" x2="212.52" y2="639.80" stroke="#555" stroke-width="1" />
<text class="t" x="212.52" y="650.30" font-size="7.0" text-anchor="middle">0.6</text>
<line x1="264.76" y1="636.30" x2="264.76" y2="639.80" stroke="#555" stroke-width="1" />
<text class="t" x="264.76" y="650.30" font-size="7.0" text-anchor="middle">0.8</text>
<line x1="317.00" y1="636.30" x2="317.00" y2="639.80" stroke="#555" stroke-width="1" />
<text class="t" x="317.00" y="650.30" font-size="7.0" text-anchor="middle">1.0</text>
<text class="t" x="186.40" y="659.30" font-size="7.0" text-anchor="middle">High Risk Threshold</text>
<line x1="58.39" y1="670.00" x2="314.41" y2="670.00" stroke="#555" stroke-width="1" />
<line x1="58.39" y1="670.00" x2="58.39" y2="673.50" stroke="#555" stroke-width="1" />
<text class="t" x="58.39" y="683.70" font-size="7.0" text-anchor="middle">1:100</text>
<line x1="99.33" y1="670.00" x2="99.33" y2="673.50" stroke="#555" stroke-width="1" />
<text class="t" x="99.33" y="683.70" font-size="7.0" text-anchor="middle">1:5</text>
<line x1="130.43" y1="670.00" x2="130.43" y2="673.50" stroke="#555" stroke-width="1" />
<text class="t" x="130.43" y="683.70" font-size="7.0" text-anchor="middle">2:5</text>
<line x1="167.74" y1="670.00" x2="167.74" y2="673.50" stroke="#555" stroke-width="1" />
<text class="t" x="167.74" y="683.70" font-size="7.0" text-anchor="middle">3:4</text>
<line x1="205.06" y1="670.00" x2="205.06" y2="673.50" stroke="#555" stroke-width="1" />
<text class="t" x="205.06" y="683.70" font-size="7.0" text-anchor="middle">4:3</text>
<line x1="242.37" y1="670.00" x2="242.37" y2="673.50" stroke="#555" stroke-width="1" />
<text class="t" x="242.37" y="683.70" font-size="7.0" text-anchor="middle">5:2</text>
<line x1="273.47" y1="670.00" x2="273.47" y2="673.50" stroke="#555" stroke-width="1" />
<text class="t" x="273.47" y="683.70" font-size="7.0" text-anchor="middle">5:1</text>
<line x1="314.41" y1="670.00" x2="314.41" y2="673.50" stroke="#555" stroke-width="1" />
<text class="t" x="314.41" y="683.70" font-size="7.0" text-anchor="middle">100:1</text>
<text class="t" x="186.40" y="692.20" font-size="7.0" text-anchor="middle">Cost:Benefit Ratio</text>
<path d="M55.8,615.8 L55.8,615.8 L55.8,615.8 L55.8,615.8 L55.8,615.8 L55.8,615.8 L55.9,615.8 L55.9,615.8 L55.9,615.8 L55.9,615.8 L56.0,615.8 L56.0,615.8 L56.0,615.8 L56.1,615.8 L56.1,615.8 L56.2,615.8 L56.2,615.8 L56.3,615.8 L56.3,615.8 L56.4,615.8 L56.5,615.8 L56.5,615.8 L56.6,615.8 L56.7,615.8 L56.7,615.8 L56.8,615.8 L56.9,615.8 L57.0,615.8 L57.1,615.8 L57.2,615.9 L57.3,615.9 L57.4,615.9 L57.5,615.9 L57.6,615.9 L57.7,615.9 L57.8,615.9 L57.9,615.9 L58.0,615.9 L58.2,615.9 L58.3,615.9 L58.4,616.0 L58.6,616.0 L58.7,616.0 L58.8,616.0 L59.0,616.0 L59.1,616.0 L59.3,616.0 L59.4,616.1 L59.6,616.1 L59.7,616.1 L59.9,616.1 L60.1,616.1 L60.2,616.2 L60.4,616.2 L60.6,616.2 L60.8,616.2 L60.9,616.3 L61.1,616.3 L61.3,616.3 L61.5,616.3 L61.7,616.4 L61.9,616.4 L62.1,616.4 L62.3,616.5 L62.5,616.5 L62.7,616.5 L62.9,616.6 L63.2,616.6 L63.4,616.6 L63.6,616.7 L63.8,616.7 L64.1,616.7 L64.3,616.8 L64.5,616.8 L64.8,616.9 L65.0,616.9 L65.3,617.0 L65.5,617.0 L65.8,617.0 L66.0,617.1 L66.3,617.1 L66.6,617.2 L66.8,617.2 L67.1,617.3 L67.4,617.3 L67.7,617.4 L67.9,617.4 L68.2,617.5 L68.5,617.5 L68.8,617.6 L69.1,617.7 L69.4,617.7 L69.7,617.8 L70.0,617.8 L70.3,617.9 L70.6,618.0 L70.9,618.0 L71.2,618.1 L71.6,618.1 L71.9,618.2 L72.2,618.3 L72.5,618.3 L72.9,618.4 L73.2,618.5 L73.5,618.5 L73.9,618.6 L74.2,618.7 L74.6,618.7 L74.9,618.8 L75.3,618.9 L75.7,618.9 L76.0,619.0 L76.4,619.1 L76.8,619.1 L77.1,619.2 L77.5,619.3 L77.9,619.4 L78.3,619.4 L78.6,619.5 L79.0,619.6 L79.4,619.7 L79.8,619.7 L80.2,619.8 L80.6,619.9 L81.0,620.0 L81.4,620.0 L81.8,620.1 L82.3,620.2 L82.7,620.3 L83.1,620.3 L83.5,620.4 L84.0,620.5 L84.4,620.6 L84.8,620.6 L85.3,620.7 L85.7,620.8 L86.1,620.9 L86.6,620.9 L87.0,621.0 L87.5,621.1 L88.0,621.2 L88.4,621.2 L88.9,621.3 L89.4,621.4 L89.8,621.5 L90.3,621.5 L90.8,621.6 L91.3,621.7 L91.7,621.8 L92.2,621.8 L92.7,621.9 L93.2,622.0 L93.7,622.1 L94.2,622.1 L94.7,622.2 L95.2,622.3 L95.7,622.4 L96.2,622.4 L96.8,622.5 L97.3,622.6 L97.8,622.6 L98.3,622.7 L98.9,622.8 L99.4,622.9 L99.9,622.9 L100.5,623.0 L101.0,623.1 L101.6,623.1 L102.1,623.2 L102.7,623.3 L103.2,623.3 L103.8,623.4 L104.3,623.5 L104.9,623.5 L105.5,623.6 L106.0,623.7 L106.6,623.7 L107.2,623.8 L107.8,623.9 L108.4,623.9 L109.0,624.0 L109.6,624.0 L110.1,624.1 L110.7,624.2 L111.3,624.2 L112.0,624.3 L112.6,624.3 L113.2,624.4 L113.8,624.5 L114.4,624.5 L115.0,624.6 L115.7,624.6 L116.3,624.7 L116.9,624.7 L117.5,624.8 L118.2,624.9 L118.8,624.9 L119.5,625.0 L120.1,625.0 L120.8,625.1 L121.4,625.1 L122.1,625.2 L122.7,625.2 L123.4,625.3 L124.1,625.3 L124.8,625.4 L125.4,625.4 L126.1,625.5 L126.8,625.5 L127.5,625.6 L128.2,625.6 L128.8,625.7 L129.5,625.7 L130.2,625.8 L130.9,625.8 L131.6,625.9 L132.3,625.9 L133.1,626.0 L133.8,626.0 L134.5,626.0 L135.2,626.1 L135.9,626.1 L136.7,626.2 L137.4,626.2 L138.1,626.3 L138.9,626.3 L139.6,626.3 L140.3,626.4 L141.1,626.4 L141.8,626.5 L142.6,626.5 L143.3,626.5 L144.1,626.6 L144.9,626.6 L145.6,626.7 L146.4,626.7 L147.2,626.7 L148.0,626.8 L148.7,626.8 L149.5,626.8 L150.3,626.9 L151.1,626.9 L151.9,627.0 L152.7,627.0 L153.5,627.0 L154.3,627.1 L155.1,627.1 L155.9,627.1 L156.7,627.2 L157.5,627.2 L158.3,627.2 L159.2,627.3 L160.0,627.3 L160.8,627.3 L161.7,627.4 L162.5,627.4 L163.3,627.4 L164.2,627.4 L165.0,627.5 L165.9,627.5 L166.7,627.5 L167.6,627.6 L168.4,627.6 L169.3,627.6 L170.1,627.7 L171.0,627.7 L171.9,627.7 L172.8,627.7 L173.6,627.8 L174.5,627.8 L175.4,627.8 L176.3,627.8 L177.2,627.9 L178.1,627.9 L179.0,627.9 L179.9,628.0 L180.8,628.0 L181.7,628.0 L182.6,628.0 L183.5,628.1 L184.4,628.1 L185.4,628.1 L186.3,628.1 L187.2,628.2 L188.1,628.2 L189.1,628.2 L190.0,628.2 L190.9,628.2 L191.9,628.3 L192.8,628.3 L193.8,628.3 L194.7,628.3 L195.7,628.4 L196.7,628.4 L197.6,628.4 L198.6,628.4 L199.6,628.4 L200.5,628.5 L201.5,628.5 L202.5,628.5 L203.5,628.5 L204.4,628.6 L205.4,628.6 L206.4,628.6 L207.4,628.6 L208.4,628.6 L209.4,628.7 L210.4,628.7 L211.4,628.7 L212.5,628.7 L213.5,628.7 L214.5,628.8 L215.5,628.8 L216.5,628.8 L217.6,628.8 L218.6,628.8 L219.6,628.9 L220.7,628.9 L221.7,628.9 L222.8,628.9 L223.8,628.9 L224.9,629.0 L225.9,629.0 L227.0,629.0 L228.0,629.0 L229.1,629.0 L230.2,629.0 L231.2,629.1 L232.3,629.1 L233.4,629.1 L234.5,629.1 L235.6,629.1 L236.6,629.2 L237.7,629.2 L238.8,629.2 L239.9,629.2 L241.0,629.2 L242.1,629.2 L243.2,629.3 L244.4,629.3 L245.5,629.3 L246.6,629.3 L247.7,629.3 L248.8,629.3 L250.0,629.4 L251.1,629.4 L252.2,629.4 L253.4,629.4 L254.5,629.4 L255.6,629.5 L256.8,629.5 L257.9,629.5 L259.1,629.5 L260.2,629.5 L261.4,629.5 L262.6,629.6 L263.7,629.6 L264.9,629.6 L266.1,629.6 L267.3,629.6 L268.4,629.6 L269.6,629.7 L270.8,629.7 L272.0,629.7 L273.2,629.7 L274.4,629.7 L275.6,629.7 L276.8,629.8 L278.0,629.8 L279.2,629.8 L280.4,629.8 L281.6,629.8 L282.8,629.8 L284.1,629.9 L285.3,629.9 L286.5,629.9 L287.8,629.9 L289.0,629.9 L290.2,629.9 L291.5,630.0 L292.7,630.0 L294.0,630.0 L295.2,630.0 L296.5,630.0 L297.7,630.0 L299.0,630.1 L300.3,630.1 L301.5,630.1 L302.8,630.1 L304.1,630.1 L305.3,630.1 L306.6,630.2 L307.9,630.2 L309.2,630.2 L310.5,630.2 L311.8,630.2 L313.1,630.2 L314.4,630.3 L315.7,630.3 L317.0,630.3" fill="none" stroke="#4545ff" stroke-width="0.9" stroke-linejoin="round" stroke-dasharray="2.2 4.5" stroke-dashoffset="-3.4"/>
<path d="M55.8,617.7 L55.8,617.7 L55.8,617.7 L55.8,617.7 L55.8,617.7 L55.8,617.7 L55.9,617.7 L55.9,617.7 L55.9,617.7 L55.9,617.7 L56.0,617.7 L56.0,617.7 L56.0,617.7 L56.1,617.7 L56.1,617.7 L56.2,617.7 L56.2,617.7 L56.3,617.7 L56.3,617.7 L56.4,617.7 L56.5,617.7 L56.5,617.7 L56.6,617.7 L56.7,617.7 L56.7,617.7 L56.8,617.7 L56.9,617.7 L57.0,617.7 L57.1,617.8 L57.2,617.8 L57.3,617.8 L57.4,617.8 L57.5,617.8 L57.6,617.8 L57.7,617.8 L57.8,617.8 L57.9,617.8 L58.0,617.8 L58.2,617.9 L58.3,617.9 L58.4,617.9 L58.6,617.9 L58.7,617.9 L58.8,617.9 L59.0,617.9 L59.1,618.0 L59.3,618.0 L59.4,618.0 L59.6,618.0 L59.7,618.1 L59.9,618.1 L60.1,618.1 L60.2,618.1 L60.4,618.1 L60.6,618.2 L60.8,618.2 L60.9,618.2 L61.1,618.3 L61.3,618.3 L61.5,618.3 L61.7,618.4 L61.9,618.4 L62.1,618.4 L62.3,618.5 L62.5,618.5 L62.7,618.5 L62.9,618.6 L63.2,618.6 L63.4,618.7 L63.6,618.7 L63.8,618.7 L64.1,618.8 L64.3,618.8 L64.5,618.9 L64.8,618.9 L65.0,619.0 L65.3,619.0 L65.5,619.1 L65.8,619.1 L66.0,619.2 L66.3,619.2 L66.6,619.3 L66.8,619.3 L67.1,619.4 L67.4,619.4 L67.7,619.5 L67.9,619.5 L68.2,619.6 L68.5,619.7 L68.8,619.7 L69.1,619.8 L69.4,619.8 L69.7,619.9 L70.0,620.0 L70.3,620.0 L70.6,620.1 L70.9,620.2 L71.2,620.2 L71.6,620.3 L71.9,620.4 L72.2,620.4 L72.5,620.5 L72.9,620.6 L73.2,620.6 L73.5,620.7 L73.9,620.8 L74.2,620.8 L74.6,620.9 L74.9,621.0 L75.3,621.0 L75.7,621.1 L76.0,621.2 L76.4,621.3 L76.8,621.3 L77.1,621.4 L77.5,621.5 L77.9,621.5 L78.3,621.6 L78.6,621.7 L79.0,621.8 L79.4,621.8 L79.8,621.9 L80.2,622.0 L80.6,622.1 L81.0,622.1 L81.4,622.2 L81.8,622.3 L82.3,622.3 L82.7,622.4 L83.1,622.5 L83.5,622.6 L84.0,622.6 L84.4,622.7 L84.8,622.8 L85.3,622.8 L85.7,622.9 L86.1,623.0 L86.6,623.1 L87.0,623.1 L87.5,623.2 L88.0,623.3 L88.4,623.3 L88.9,623.4 L89.4,623.5 L89.8,623.5 L90.3,623.6 L90.8,623.7 L91.3,623.7 L91.7,623.8 L92.2,623.9 L92.7,623.9 L93.2,624.0 L93.7,624.1 L94.2,624.1 L94.7,624.2 L95.2,624.3 L95.7,624.3 L96.2,624.4 L96.8,624.5 L97.3,624.5 L97.8,624.6 L98.3,624.6 L98.9,624.7 L99.4,624.8 L99.9,624.8 L100.5,624.9 L101.0,624.9 L101.6,625.0 L102.1,625.1 L102.7,625.1 L103.2,625.2 L103.8,625.2 L104.3,625.3 L104.9,625.3 L105.5,625.4 L106.0,625.4 L106.6,625.5 L107.2,625.5 L107.8,625.6 L108.4,625.7 L109.0,625.7 L109.6,625.8 L110.1,625.8 L110.7,625.9 L111.3,625.9 L112.0,626.0 L112.6,626.0 L113.2,626.0 L113.8,626.1 L114.4,626.1 L115.0,626.2 L115.7,626.2 L116.3,626.3 L116.9,626.3 L117.5,626.4 L118.2,626.4 L118.8,626.5 L119.5,626.5 L120.1,626.5 L120.8,626.6 L121.4,626.6 L122.1,626.7 L122.7,626.7 L123.4,626.7 L124.1,626.8 L124.8,626.8 L125.4,626.9 L126.1,626.9 L126.8,626.9 L127.5,627.0 L128.2,627.0 L128.8,627.1 L129.5,627.1 L130.2,627.1 L130.9,627.2 L131.6,627.2 L132.3,627.2 L133.1,627.3 L133.8,627.3 L134.5,627.3 L135.2,627.4 L135.9,627.4 L136.7,627.4 L137.4,627.5 L138.1,627.5 L138.9,627.5 L139.6,627.6 L140.3,627.6 L141.1,627.6 L141.8,627.6 L142.6,627.7 L143.3,627.7 L144.1,627.7 L144.9,627.8 L145.6,627.8 L146.4,627.8 L147.2,627.8 L148.0,627.9 L148.7,627.9 L149.5,627.9 L150.3,628.0 L151.1,628.0 L151.9,628.0 L152.7,628.0 L153.5,628.1 L154.3,628.1 L155.1,628.1 L155.9,628.1 L156.7,628.2 L157.5,628.2 L158.3,628.2 L159.2,628.2 L160.0,628.2 L160.8,628.3 L161.7,628.3 L162.5,628.3 L163.3,628.3 L164.2,628.4 L165.0,628.4 L165.9,628.4 L166.7,628.4 L167.6,628.4 L168.4,628.5 L169.3,628.5 L170.1,628.5 L171.0,628.5 L171.9,628.5 L172.8,628.6 L173.6,628.6 L174.5,628.6 L175.4,628.6 L176.3,628.6 L177.2,628.7 L178.1,628.7 L179.0,628.7 L179.9,628.7 L180.8,628.7 L181.7,628.8 L182.6,628.8 L183.5,628.8 L184.4,628.8 L185.4,628.8 L186.3,628.8 L187.2,628.9 L188.1,628.9 L189.1,628.9 L190.0,628.9 L190.9,628.9 L191.9,628.9 L192.8,629.0 L193.8,629.0 L194.7,629.0 L195.7,629.0 L196.7,629.0 L197.6,629.0 L198.6,629.0 L199.6,629.1 L200.5,629.1 L201.5,629.1 L202.5,629.1 L203.5,629.1 L204.4,629.1 L205.4,629.1 L206.4,629.2 L207.4,629.2 L208.4,629.2 L209.4,629.2 L210.4,629.2 L211.4,629.2 L212.5,629.2 L213.5,629.3 L214.5,629.3 L215.5,629.3 L216.5,629.3 L217.6,629.3 L218.6,629.3 L219.6,629.3 L220.7,629.4 L221.7,629.4 L222.8,629.4 L223.8,629.4 L224.9,629.4 L225.9,629.4 L227.0,629.4 L228.0,629.4 L229.1,629.5 L230.2,629.5 L231.2,629.5 L232.3,629.5 L233.4,629.5 L234.5,629.5 L235.6,629.5 L236.6,629.5 L237.7,629.6 L238.8,629.6 L239.9,629.6 L241.0,629.6 L242.1,629.6 L243.2,629.6 L244.4,629.6 L245.5,629.6 L246.6,629.6 L247.7,629.7 L248.8,629.7 L250.0,629.7 L251.1,629.7 L252.2,629.7 L253.4,629.7 L254.5,629.7 L255.6,629.7 L256.8,629.8 L257.9,629.8 L259.1,629.8 L260.2,629.8 L261.4,629.8 L262.6,629.8 L263.7,629.8 L264.9,629.8 L266.1,629.8 L267.3,629.9 L268.4,629.9 L269.6,629.9 L270.8,629.9 L272.0,629.9 L273.2,629.9 L274.4,629.9 L275.6,629.9 L276.8,629.9 L278.0,630.0 L279.2,630.0 L280.4,630.0 L281.6,630.0 L282.8,630.0 L284.1,630.0 L285.3,630.0 L286.5,630.0 L287.8,630.0 L289.0,630.1 L290.2,630.1 L291.5,630.1 L292.7,630.1 L294.0,630.1 L295.2,630.1 L296.5,630.1 L297.7,630.1 L299.0,630.1 L300.3,630.2 L301.5,630.2 L302.8,630.2 L304.1,630.2 L305.3,630.2 L306.6,630.2 L307.9,630.2 L309.2,630.2 L310.5,630.2 L311.8,630.3 L313.1,630.3 L314.4,630.3 L315.7,630.3 L317.0,630.3" fill="none" stroke="#4545ff" stroke-width="0.9" stroke-linejoin="round" stroke-dasharray="2.2 4.5" stroke-dashoffset="-3.4"/>
<path d="M55.8,616.7 L55.8,616.7 L55.8,616.7 L55.8,616.7 L55.8,616.7 L55.8,616.7 L55.9,616.7 L55.9,616.7 L55.9,616.7 L55.9,616.7 L56.0,616.7 L56.0,616.7 L56.0,616.7 L56.1,616.7 L56.1,616.7 L56.2,616.7 L56.2,616.7 L56.3,616.8 L56.3,616.8 L56.4,616.8 L56.5,616.8 L56.5,616.8 L56.6,616.8 L56.7,616.8 L56.7,616.8 L56.8,616.8 L56.9,616.8 L57.0,616.8 L57.1,616.8 L57.2,616.8 L57.3,616.8 L57.4,616.8 L57.5,616.8 L57.6,616.8 L57.7,616.8 L57.8,616.9 L57.9,616.9 L58.0,616.9 L58.2,616.9 L58.3,616.9 L58.4,616.9 L58.6,616.9 L58.7,616.9 L58.8,617.0 L59.0,617.0 L59.1,617.0 L59.3,617.0 L59.4,617.0 L59.6,617.1 L59.7,617.1 L59.9,617.1 L60.1,617.1 L60.2,617.1 L60.4,617.2 L60.6,617.2 L60.8,617.2 L60.9,617.2 L61.1,617.3 L61.3,617.3 L61.5,617.3 L61.7,617.4 L61.9,617.4 L62.1,617.4 L62.3,617.5 L62.5,617.5 L62.7,617.5 L62.9,617.6 L63.2,617.6 L63.4,617.6 L63.6,617.7 L63.8,617.7 L64.1,617.8 L64.3,617.8 L64.5,617.8 L64.8,617.9 L65.0,617.9 L65.3,618.0 L65.5,618.0 L65.8,618.1 L66.0,618.1 L66.3,618.2 L66.6,618.2 L66.8,618.3 L67.1,618.3 L67.4,618.4 L67.7,618.4 L67.9,618.5 L68.2,618.6 L68.5,618.6 L68.8,618.7 L69.1,618.7 L69.4,618.8 L69.7,618.8 L70.0,618.9 L70.3,619.0 L70.6,619.0 L70.9,619.1 L71.2,619.2 L71.6,619.2 L71.9,619.3 L72.2,619.3 L72.5,619.4 L72.9,619.5 L73.2,619.6 L73.5,619.6 L73.9,619.7 L74.2,619.8 L74.6,619.8 L74.9,619.9 L75.3,620.0 L75.7,620.0 L76.0,620.1 L76.4,620.2 L76.8,620.3 L77.1,620.3 L77.5,620.4 L77.9,620.5 L78.3,620.5 L78.6,620.6 L79.0,620.7 L79.4,620.8 L79.8,620.8 L80.2,620.9 L80.6,621.0 L81.0,621.1 L81.4,621.1 L81.8,621.2 L82.3,621.3 L82.7,621.4 L83.1,621.4 L83.5,621.5 L84.0,621.6 L84.4,621.7 L84.8,621.7 L85.3,621.8 L85.7,621.9 L86.1,621.9 L86.6,622.0 L87.0,622.1 L87.5,622.2 L88.0,622.2 L88.4,622.3 L88.9,622.4 L89.4,622.5 L89.8,622.5 L90.3,622.6 L90.8,622.7 L91.3,622.8 L91.7,622.8 L92.2,622.9 L92.7,623.0 L93.2,623.0 L93.7,623.1 L94.2,623.2 L94.7,623.2 L95.2,623.3 L95.7,623.4 L96.2,623.4 L96.8,623.5 L97.3,623.6 L97.8,623.6 L98.3,623.7 L98.9,623.8 L99.4,623.8 L99.9,623.9 L100.5,624.0 L101.0,624.0 L101.6,624.1 L102.1,624.2 L102.7,624.2 L103.2,624.3 L103.8,624.4 L104.3,624.4 L104.9,624.5 L105.5,624.5 L106.0,624.6 L106.6,624.7 L107.2,624.7 L107.8,624.8 L108.4,624.8 L109.0,624.9 L109.6,624.9 L110.1,625.0 L110.7,625.1 L111.3,625.1 L112.0,625.2 L112.6,625.2 L113.2,625.3 L113.8,625.3 L114.4,625.4 L115.0,625.4 L115.7,625.5 L116.3,625.5 L116.9,625.6 L117.5,625.6 L118.2,625.7 L118.8,625.7 L119.5,625.8 L120.1,625.8 L120.8,625.9 L121.4,625.9 L122.1,626.0 L122.7,626.0 L123.4,626.1 L124.1,626.1 L124.8,626.1 L125.4,626.2 L126.1,626.2 L126.8,626.3 L127.5,626.3 L128.2,626.4 L128.8,626.4 L129.5,626.5 L130.2,626.5 L130.9,626.5 L131.6,626.6 L132.3,626.6 L133.1,626.7 L133.8,626.7 L134.5,626.7 L135.2,626.8 L135.9,626.8 L136.7,626.8 L137.4,626.9 L138.1,626.9 L138.9,627.0 L139.6,627.0 L140.3,627.0 L141.1,627.1 L141.8,627.1 L142.6,627.1 L143.3,627.2 L144.1,627.2 L144.9,627.2 L145.6,627.3 L146.4,627.3 L147.2,627.3 L148.0,627.4 L148.7,627.4 L149.5,627.4 L150.3,627.5 L151.1,627.5 L151.9,627.5 L152.7,627.5 L153.5,627.6 L154.3,627.6 L155.1,627.6 L155.9,627.7 L156.7,627.7 L157.5,627.7 L158.3,627.7 L159.2,627.8 L160.0,627.8 L160.8,627.8 L161.7,627.9 L162.5,627.9 L163.3,627.9 L164.2,627.9 L165.0,628.0 L165.9,628.0 L166.7,628.0 L167.6,628.0 L168.4,628.1 L169.3,628.1 L170.1,628.1 L171.0,628.1 L171.9,628.2 L172.8,628.2 L173.6,628.2 L174.5,628.2 L175.4,628.3 L176.3,628.3 L177.2,628.3 L178.1,628.3 L179.0,628.3 L179.9,628.4 L180.8,628.4 L181.7,628.4 L182.6,628.4 L183.5,628.4 L184.4,628.5 L185.4,628.5 L186.3,628.5 L187.2,628.5 L188.1,628.6 L189.1,628.6 L190.0,628.6 L190.9,628.6 L191.9,628.6 L192.8,628.6 L193.8,628.7 L194.7,628.7 L195.7,628.7 L196.7,628.7 L197.6,628.7 L198.6,628.8 L199.6,628.8 L200.5,628.8 L201.5,628.8 L202.5,628.8 L203.5,628.9 L204.4,628.9 L205.4,628.9 L206.4,628.9 L207.4,628.9 L208.4,628.9 L209.4,629.0 L210.4,629.0 L211.4,629.0 L212.5,629.0 L213.5,629.0 L214.5,629.0 L215.5,629.1 L216.5,629.1 L217.6,629.1 L218.6,629.1 L219.6,629.1 L220.7,629.1 L221.7,629.2 L222.8,629.2 L223.8,629.2 L224.9,629.2 L225.9,629.2 L227.0,629.2 L228.0,629.2 L229.1,629.3 L230.2,629.3 L231.2,629.3 L232.3,629.3 L233.4,629.3 L234.5,629.3 L235.6,629.4 L236.6,629.4 L237.7,629.4 L238.8,629.4 L239.9,629.4 L241.0,629.4 L242.1,629.4 L243.2,629.5 L244.4,629.5 L245.5,629.5 L246.6,629.5 L247.7,629.5 L248.8,629.5 L250.0,629.5 L251.1,629.6 L252.2,629.6 L253.4,629.6 L254.5,629.6 L255.6,629.6 L256.8,629.6 L257.9,629.6 L259.1,629.7 L260.2,629.7 L261.4,629.7 L262.6,629.7 L263.7,629.7 L264.9,629.7 L266.1,629.7 L267.3,629.7 L268.4,629.8 L269.6,629.8 L270.8,629.8 L272.0,629.8 L273.2,629.8 L274.4,629.8 L275.6,629.8 L276.8,629.9 L278.0,629.9 L279.2,629.9 L280.4,629.9 L281.6,629.9 L282.8,629.9 L284.1,629.9 L285.3,630.0 L286.5,630.0 L287.8,630.0 L289.0,630.0 L290.2,630.0 L291.5,630.0 L292.7,630.0 L294.0,630.0 L295.2,630.1 L296.5,630.1 L297.7,630.1 L299.0,630.1 L300.3,630.1 L301.5,630.1 L302.8,630.1 L304.1,630.2 L305.3,630.2 L306.6,630.2 L307.9,630.2 L309.2,630.2 L310.5,630.2 L311.8,630.2 L313.1,630.3 L314.4,630.3 L315.7,630.3 L317.0,630.3" fill="none" stroke="#2a2aff" stroke-width="1.1" stroke-linejoin="round" stroke-dasharray="3.3 3.4"/>
<path d="M55.8,481.6 L55.8,481.6 L55.8,481.6 L55.8,481.6 L55.8,481.6 L55.8,481.6 L55.9,481.6 L55.9,481.6 L55.9,481.7 L55.9,481.7 L56.0,481.7 L56.0,481.8 L56.0,481.8 L56.1,481.9 L56.1,482.0 L56.2,482.0 L56.2,482.1 L56.3,482.3 L56.3,482.4 L56.4,482.6 L56.5,482.7 L56.5,482.9 L56.6,483.1 L56.7,483.4 L56.7,483.6 L56.8,483.9 L56.9,484.2 L57.0,484.6 L57.1,484.9 L57.2,485.3 L57.3,485.7 L57.4,486.2 L57.5,486.7 L57.6,487.2 L57.7,487.7 L57.8,488.3 L57.9,488.9 L58.0,489.6 L58.2,490.2 L58.3,491.0 L58.4,491.7 L58.6,492.5 L58.7,493.3 L58.8,494.2 L59.0,495.1 L59.1,496.0 L59.3,496.9 L59.4,497.9 L59.6,499.0 L59.7,500.0 L59.9,501.1 L60.1,502.2 L60.2,503.4 L60.4,504.5 L60.6,505.8 L60.8,507.0 L60.9,508.3 L61.1,509.5 L61.3,510.8 L61.5,512.2 L61.7,513.5 L61.9,514.9 L62.1,516.3 L62.3,517.7 L62.5,519.1 L62.7,520.6 L62.9,522.0 L63.2,523.5 L63.4,524.9 L63.6,526.4 L63.8,527.9 L64.1,529.4 L64.3,530.9 L64.5,532.4 L64.8,533.9 L65.0,535.3 L65.3,536.8 L65.5,538.3 L65.8,539.8 L66.0,541.3 L66.3,542.8 L66.6,544.2 L66.8,545.7 L67.1,547.1 L67.4,548.5 L67.7,550.0 L67.9,551.4 L68.2,552.8 L68.5,554.2 L68.8,555.5 L69.1,556.9 L69.4,558.2 L69.7,559.5 L70.0,560.9 L70.3,562.1 L70.6,563.4 L70.9,564.7 L71.2,565.9 L71.6,567.1 L71.9,568.3 L72.2,569.5 L72.5,570.7 L72.9,571.8 L73.2,572.9 L73.5,574.0 L73.9,575.1 L74.2,576.2 L74.6,577.2 L74.9,578.3 L75.3,579.3 L75.7,580.3 L76.0,581.3 L76.4,582.2 L76.8,583.1 L77.1,584.1 L77.5,585.0 L77.9,585.9 L78.3,586.7 L78.6,587.6 L79.0,588.4 L79.4,589.2 L79.8,590.0 L80.2,590.8 L80.6,591.6 L81.0,592.3 L81.4,593.1 L81.8,593.8 L82.3,594.5 L82.7,595.2 L83.1,595.9 L83.5,596.5 L84.0,597.2 L84.4,597.8 L84.8,598.4 L85.3,599.0 L85.7,599.6 L86.1,600.2 L86.6,600.8 L87.0,601.3 L87.5,601.9 L88.0,602.4 L88.4,602.9 L88.9,603.4 L89.4,603.9 L89.8,604.4 L90.3,604.9 L90.8,605.4 L91.3,605.8 L91.7,606.3 L92.2,606.7 L92.7,607.2 L93.2,607.6 L93.7,608.0 L94.2,608.4 L94.7,608.8 L95.2,609.2 L95.7,609.5 L96.2,609.9 L96.8,610.3 L97.3,610.6 L97.8,611.0 L98.3,611.3 L98.9,611.7 L99.4,612.0 L99.9,612.3 L100.5,612.6 L101.0,612.9 L101.6,613.2 L102.1,613.5 L102.7,613.8 L103.2,614.1 L103.8,614.3 L104.3,614.6 L104.9,614.9 L105.5,615.1 L106.0,615.4 L106.6,615.6 L107.2,615.9 L107.8,616.1 L108.4,616.4 L109.0,616.6 L109.6,616.8 L110.1,617.0 L110.7,617.2 L111.3,617.5 L112.0,617.7 L112.6,617.9 L113.2,618.1 L113.8,618.3 L114.4,618.5 L115.0,618.6 L115.7,618.8 L116.3,619.0 L116.9,619.2 L117.5,619.4 L118.2,619.5 L118.8,619.7 L119.5,619.9 L120.1,620.0 L120.8,620.2 L121.4,620.3 L122.1,620.5 L122.7,620.6 L123.4,620.8 L124.1,620.9 L124.8,621.1 L125.4,621.2 L126.1,621.3 L126.8,621.5 L127.5,621.6 L128.2,621.7 L128.8,621.9 L129.5,622.0 L130.2,622.1 L130.9,622.2 L131.6,622.3 L132.3,622.4 L133.1,622.6 L133.8,622.7 L134.5,622.8 L135.2,622.9 L135.9,623.0 L136.7,623.1 L137.4,623.2 L138.1,623.3 L138.9,623.4 L139.6,623.5 L140.3,623.6 L141.1,623.7 L141.8,623.8 L142.6,623.9 L143.3,624.0 L144.1,624.0 L144.9,624.1 L145.6,624.2 L146.4,624.3 L147.2,624.4 L148.0,624.5 L148.7,624.5 L149.5,624.6 L150.3,624.7 L151.1,624.8 L151.9,624.8 L152.7,624.9 L153.5,625.0 L154.3,625.1 L155.1,625.1 L155.9,625.2 L156.7,625.3 L157.5,625.3 L158.3,625.4 L159.2,625.5 L160.0,625.5 L160.8,625.6 L161.7,625.7 L162.5,625.7 L163.3,625.8 L164.2,625.8 L165.0,625.9 L165.9,626.0 L166.7,626.0 L167.6,626.1 L168.4,626.1 L169.3,626.2 L170.1,626.2 L171.0,626.3 L171.9,626.3 L172.8,626.4 L173.6,626.4 L174.5,626.5 L175.4,626.5 L176.3,626.6 L177.2,626.6 L178.1,626.7 L179.0,626.7 L179.9,626.8 L180.8,626.8 L181.7,626.9 L182.6,626.9 L183.5,627.0 L184.4,627.0 L185.4,627.0 L186.3,627.1 L187.2,627.1 L188.1,627.2 L189.1,627.2 L190.0,627.3 L190.9,627.3 L191.9,627.3 L192.8,627.4 L193.8,627.4 L194.7,627.5 L195.7,627.5 L196.7,627.5 L197.6,627.6 L198.6,627.6 L199.6,627.6 L200.5,627.7 L201.5,627.7 L202.5,627.7 L203.5,627.8 L204.4,627.8 L205.4,627.8 L206.4,627.9 L207.4,627.9 L208.4,627.9 L209.4,628.0 L210.4,628.0 L211.4,628.0 L212.5,628.1 L213.5,628.1 L214.5,628.1 L215.5,628.2 L216.5,628.2 L217.6,628.2 L218.6,628.3 L219.6,628.3 L220.7,628.3 L221.7,628.3 L222.8,628.4 L223.8,628.4 L224.9,628.4 L225.9,628.5 L227.0,628.5 L228.0,628.5 L229.1,628.5 L230.2,628.6 L231.2,628.6 L232.3,628.6 L233.4,628.7 L234.5,628.7 L235.6,628.7 L236.6,628.7 L237.7,628.8 L238.8,628.8 L239.9,628.8 L241.0,628.8 L242.1,628.9 L243.2,628.9 L244.4,628.9 L245.5,628.9 L246.6,629.0 L247.7,629.0 L248.8,629.0 L250.0,629.0 L251.1,629.1 L252.2,629.1 L253.4,629.1 L254.5,629.1 L255.6,629.2 L256.8,629.2 L257.9,629.2 L259.1,629.2 L260.2,629.3 L261.4,629.3 L262.6,629.3 L263.7,629.3 L264.9,629.4 L266.1,629.4 L267.3,629.4 L268.4,629.4 L269.6,629.4 L270.8,629.5 L272.0,629.5 L273.2,629.5 L274.4,629.5 L275.6,629.6 L276.8,629.6 L278.0,629.6 L279.2,629.6 L280.4,629.7 L281.6,629.7 L282.8,629.7 L284.1,629.7 L285.3,629.7 L286.5,629.8 L287.8,629.8 L289.0,629.8 L290.2,629.8 L291.5,629.9 L292.7,629.9 L294.0,629.9 L295.2,629.9 L296.5,629.9 L297.7,630.0 L299.0,630.0 L300.3,630.0 L301.5,630.0 L302.8,630.1 L304.1,630.1 L305.3,630.1 L306.6,630.1 L307.9,630.1 L309.2,630.2 L310.5,630.2 L311.8,630.2 L313.1,630.2 L314.4,630.3 L315.7,630.3 L317.0,630.3" fill="none" stroke="#ff2a2a" stroke-width="0.8" stroke-linejoin="round" />
<path d="M55.8,481.6 L55.8,481.6 L55.8,481.6 L55.8,481.6 L55.8,481.6 L55.8,481.6 L55.9,481.6 L55.9,481.6 L55.9,481.6 L55.9,481.6 L56.0,481.6 L56.0,481.7 L56.0,481.7 L56.1,481.7 L56.1,481.7 L56.2,481.8 L56.2,481.8 L56.3,481.9 L56.3,481.9 L56.4,482.0 L56.5,482.1 L56.5,482.2 L56.6,482.3 L56.7,482.4 L56.7,482.5 L56.8,482.7 L56.9,482.8 L57.0,483.0 L57.1,483.2 L57.2,483.4 L57.3,483.6 L57.4,483.9 L57.5,484.1 L57.6,484.4 L57.7,484.7 L57.8,485.0 L57.9,485.4 L58.0,485.8 L58.2,486.2 L58.3,486.6 L58.4,487.0 L58.6,487.5 L58.7,488.0 L58.8,488.5 L59.0,489.1 L59.1,489.7 L59.3,490.3 L59.4,490.9 L59.6,491.6 L59.7,492.3 L59.9,493.0 L60.1,493.7 L60.2,494.5 L60.4,495.3 L60.6,496.2 L60.8,497.1 L60.9,497.9 L61.1,498.9 L61.3,499.8 L61.5,500.8 L61.7,501.8 L61.9,502.9 L62.1,503.9 L62.3,505.0 L62.5,506.1 L62.7,507.2 L62.9,508.4 L63.2,509.6 L63.4,510.8 L63.6,512.0 L63.8,513.2 L64.1,514.5 L64.3,515.8 L64.5,517.1 L64.8,518.4 L65.0,519.7 L65.3,521.0 L65.5,522.4 L65.8,523.7 L66.0,525.1 L66.3,526.4 L66.6,527.8 L66.8,529.2 L67.1,530.6 L67.4,532.0 L67.7,533.4 L67.9,534.8 L68.2,536.1 L68.5,537.5 L68.8,538.9 L69.1,540.3 L69.4,541.7 L69.7,543.1 L70.0,544.4 L70.3,545.8 L70.6,547.2 L70.9,548.5 L71.2,549.9 L71.6,551.2 L71.9,552.5 L72.2,553.8 L72.5,555.1 L72.9,556.4 L73.2,557.7 L73.5,558.9 L73.9,560.2 L74.2,561.4 L74.6,562.6 L74.9,563.8 L75.3,565.0 L75.7,566.2 L76.0,567.3 L76.4,568.5 L76.8,569.6 L77.1,570.7 L77.5,571.8 L77.9,572.9 L78.3,573.9 L78.6,575.0 L79.0,576.0 L79.4,577.0 L79.8,578.0 L80.2,579.0 L80.6,579.9 L81.0,580.9 L81.4,581.8 L81.8,582.7 L82.3,583.6 L82.7,584.5 L83.1,585.3 L83.5,586.2 L84.0,587.0 L84.4,587.8 L84.8,588.6 L85.3,589.4 L85.7,590.2 L86.1,590.9 L86.6,591.7 L87.0,592.4 L87.5,593.1 L88.0,593.8 L88.4,594.5 L88.9,595.2 L89.4,595.8 L89.8,596.5 L90.3,597.1 L90.8,597.7 L91.3,598.3 L91.7,598.9 L92.2,599.5 L92.7,600.1 L93.2,600.6 L93.7,601.2 L94.2,601.7 L94.7,602.2 L95.2,602.7 L95.7,603.2 L96.2,603.7 L96.8,604.2 L97.3,604.7 L97.8,605.2 L98.3,605.6 L98.9,606.1 L99.4,606.5 L99.9,606.9 L100.5,607.3 L101.0,607.7 L101.6,608.1 L102.1,608.5 L102.7,608.9 L103.2,609.3 L103.8,609.7 L104.3,610.0 L104.9,610.4 L105.5,610.7 L106.0,611.1 L106.6,611.4 L107.2,611.7 L107.8,612.1 L108.4,612.4 L109.0,612.7 L109.6,613.0 L110.1,613.3 L110.7,613.6 L111.3,613.8 L112.0,614.1 L112.6,614.4 L113.2,614.7 L113.8,614.9 L114.4,615.2 L115.0,615.4 L115.7,615.7 L116.3,615.9 L116.9,616.2 L117.5,616.4 L118.2,616.6 L118.8,616.8 L119.5,617.1 L120.1,617.3 L120.8,617.5 L121.4,617.7 L122.1,617.9 L122.7,618.1 L123.4,618.3 L124.1,618.5 L124.8,618.7 L125.4,618.8 L126.1,619.0 L126.8,619.2 L127.5,619.4 L128.2,619.5 L128.8,619.7 L129.5,619.9 L130.2,620.0 L130.9,620.2 L131.6,620.4 L132.3,620.5 L133.1,620.7 L133.8,620.8 L134.5,620.9 L135.2,621.1 L135.9,621.2 L136.7,621.4 L137.4,621.5 L138.1,621.6 L138.9,621.8 L139.6,621.9 L140.3,622.0 L141.1,622.1 L141.8,622.3 L142.6,622.4 L143.3,622.5 L144.1,622.6 L144.9,622.7 L145.6,622.8 L146.4,622.9 L147.2,623.0 L148.0,623.2 L148.7,623.3 L149.5,623.4 L150.3,623.5 L151.1,623.6 L151.9,623.7 L152.7,623.7 L153.5,623.8 L154.3,623.9 L155.1,624.0 L155.9,624.1 L156.7,624.2 L157.5,624.3 L158.3,624.4 L159.2,624.5 L160.0,624.5 L160.8,624.6 L161.7,624.7 L162.5,624.8 L163.3,624.9 L164.2,624.9 L165.0,625.0 L165.9,625.1 L166.7,625.2 L167.6,625.2 L168.4,625.3 L169.3,625.4 L170.1,625.4 L171.0,625.5 L171.9,625.6 L172.8,625.6 L173.6,625.7 L174.5,625.8 L175.4,625.8 L176.3,625.9 L177.2,626.0 L178.1,626.0 L179.0,626.1 L179.9,626.1 L180.8,626.2 L181.7,626.2 L182.6,626.3 L183.5,626.4 L184.4,626.4 L185.4,626.5 L186.3,626.5 L187.2,626.6 L188.1,626.6 L189.1,626.7 L190.0,626.7 L190.9,626.8 L191.9,626.8 L192.8,626.9 L193.8,626.9 L194.7,627.0 L195.7,627.0 L196.7,627.1 L197.6,627.1 L198.6,627.2 L199.6,627.2 L200.5,627.2 L201.5,627.3 L202.5,627.3 L203.5,627.4 L204.4,627.4 L205.4,627.5 L206.4,627.5 L207.4,627.5 L208.4,627.6 L209.4,627.6 L210.4,627.7 L211.4,627.7 L212.5,627.7 L213.5,627.8 L214.5,627.8 L215.5,627.8 L216.5,627.9 L217.6,627.9 L218.6,628.0 L219.6,628.0 L220.7,628.0 L221.7,628.1 L222.8,628.1 L223.8,628.1 L224.9,628.2 L225.9,628.2 L227.0,628.2 L228.0,628.3 L229.1,628.3 L230.2,628.3 L231.2,628.4 L232.3,628.4 L233.4,628.4 L234.5,628.5 L235.6,628.5 L236.6,628.5 L237.7,628.6 L238.8,628.6 L239.9,628.6 L241.0,628.6 L242.1,628.7 L243.2,628.7 L244.4,628.7 L245.5,628.8 L246.6,628.8 L247.7,628.8 L248.8,628.9 L250.0,628.9 L251.1,628.9 L252.2,628.9 L253.4,629.0 L254.5,629.0 L255.6,629.0 L256.8,629.1 L257.9,629.1 L259.1,629.1 L260.2,629.1 L261.4,629.2 L262.6,629.2 L263.7,629.2 L264.9,629.2 L266.1,629.3 L267.3,629.3 L268.4,629.3 L269.6,629.4 L270.8,629.4 L272.0,629.4 L273.2,629.4 L274.4,629.5 L275.6,629.5 L276.8,629.5 L278.0,629.5 L279.2,629.6 L280.4,629.6 L281.6,629.6 L282.8,629.6 L284.1,629.7 L285.3,629.7 L286.5,629.7 L287.8,629.7 L289.0,629.8 L290.2,629.8 L291.5,629.8 L292.7,629.8 L294.0,629.9 L295.2,629.9 L296.5,629.9 L297.7,629.9 L299.0,630.0 L300.3,630.0 L301.5,630.0 L302.8,630.0 L304.1,630.1 L305.3,630.1 L306.6,630.1 L307.9,630.1 L309.2,630.2 L310.5,630.2 L311.8,630.2 L313.1,630.2 L314.4,630.3 L315.7,630.3 L317.0,630.3" fill="none" stroke="#ff2a2a" stroke-width="0.8" stroke-linejoin="round" />
<path d="M55.8,481.6 L55.8,481.6 L55.8,481.6 L55.8,481.6 L55.8,481.6 L55.8,481.6 L55.9,481.6 L55.9,481.6 L55.9,481.6 L55.9,481.7 L56.0,481.7 L56.0,481.7 L56.0,481.7 L56.1,481.8 L56.1,481.8 L56.2,481.9 L56.2,482.0 L56.3,482.0 L56.3,482.1 L56.4,482.2 L56.5,482.4 L56.5,482.5 L56.6,482.6 L56.7,482.8 L56.7,483.0 L56.8,483.2 L56.9,483.4 L57.0,483.6 L57.1,483.9 L57.2,484.2 L57.3,484.5 L57.4,484.8 L57.5,485.2 L57.6,485.6 L57.7,486.0 L57.8,486.4 L57.9,486.9 L58.0,487.4 L58.2,487.9 L58.3,488.5 L58.4,489.0 L58.6,489.7 L58.7,490.3 L58.8,491.0 L59.0,491.7 L59.1,492.4 L59.3,493.2 L59.4,494.0 L59.6,494.8 L59.7,495.7 L59.9,496.6 L60.1,497.5 L60.2,498.5 L60.4,499.4 L60.6,500.5 L60.8,501.5 L60.9,502.6 L61.1,503.7 L61.3,504.8 L61.5,506.0 L61.7,507.1 L61.9,508.3 L62.1,509.6 L62.3,510.8 L62.5,512.1 L62.7,513.4 L62.9,514.7 L63.2,516.0 L63.4,517.3 L63.6,518.7 L63.8,520.1 L64.1,521.5 L64.3,522.8 L64.5,524.3 L64.8,525.7 L65.0,527.1 L65.3,528.5 L65.5,529.9 L65.8,531.4 L66.0,532.8 L66.3,534.2 L66.6,535.7 L66.8,537.1 L67.1,538.5 L67.4,540.0 L67.7,541.4 L67.9,542.8 L68.2,544.2 L68.5,545.6 L68.8,547.0 L69.1,548.4 L69.4,549.8 L69.7,551.1 L70.0,552.5 L70.3,553.8 L70.6,555.2 L70.9,556.5 L71.2,557.8 L71.6,559.1 L71.9,560.3 L72.2,561.6 L72.5,562.8 L72.9,564.1 L73.2,565.3 L73.5,566.5 L73.9,567.6 L74.2,568.8 L74.6,569.9 L74.9,571.1 L75.3,572.2 L75.7,573.3 L76.0,574.3 L76.4,575.4 L76.8,576.4 L77.1,577.4 L77.5,578.4 L77.9,579.4 L78.3,580.4 L78.6,581.3 L79.0,582.3 L79.4,583.2 L79.8,584.1 L80.2,585.0 L80.6,585.8 L81.0,586.7 L81.4,587.5 L81.8,588.3 L82.3,589.1 L82.7,589.9 L83.1,590.7 L83.5,591.4 L84.0,592.2 L84.4,592.9 L84.8,593.6 L85.3,594.3 L85.7,595.0 L86.1,595.6 L86.6,596.3 L87.0,596.9 L87.5,597.6 L88.0,598.2 L88.4,598.8 L88.9,599.4 L89.4,599.9 L89.8,600.5 L90.3,601.1 L90.8,601.6 L91.3,602.1 L91.7,602.7 L92.2,603.2 L92.7,603.7 L93.2,604.2 L93.7,604.6 L94.2,605.1 L94.7,605.6 L95.2,606.0 L95.7,606.4 L96.2,606.9 L96.8,607.3 L97.3,607.7 L97.8,608.1 L98.3,608.5 L98.9,608.9 L99.4,609.3 L99.9,609.6 L100.5,610.0 L101.0,610.4 L101.6,610.7 L102.1,611.1 L102.7,611.4 L103.2,611.7 L103.8,612.0 L104.3,612.3 L104.9,612.7 L105.5,613.0 L106.0,613.3 L106.6,613.5 L107.2,613.8 L107.8,614.1 L108.4,614.4 L109.0,614.6 L109.6,614.9 L110.1,615.2 L110.7,615.4 L111.3,615.7 L112.0,615.9 L112.6,616.1 L113.2,616.4 L113.8,616.6 L114.4,616.8 L115.0,617.0 L115.7,617.2 L116.3,617.5 L116.9,617.7 L117.5,617.9 L118.2,618.1 L118.8,618.3 L119.5,618.4 L120.1,618.6 L120.8,618.8 L121.4,619.0 L122.1,619.2 L122.7,619.3 L123.4,619.5 L124.1,619.7 L124.8,619.8 L125.4,620.0 L126.1,620.2 L126.8,620.3 L127.5,620.5 L128.2,620.6 L128.8,620.8 L129.5,620.9 L130.2,621.1 L130.9,621.2 L131.6,621.3 L132.3,621.5 L133.1,621.6 L133.8,621.7 L134.5,621.8 L135.2,622.0 L135.9,622.1 L136.7,622.2 L137.4,622.3 L138.1,622.4 L138.9,622.6 L139.6,622.7 L140.3,622.8 L141.1,622.9 L141.8,623.0 L142.6,623.1 L143.3,623.2 L144.1,623.3 L144.9,623.4 L145.6,623.5 L146.4,623.6 L147.2,623.7 L148.0,623.8 L148.7,623.9 L149.5,624.0 L150.3,624.1 L151.1,624.1 L151.9,624.2 L152.7,624.3 L153.5,624.4 L154.3,624.5 L155.1,624.6 L155.9,624.6 L156.7,624.7 L157.5,624.8 L158.3,624.9 L159.2,624.9 L160.0,625.0 L160.8,625.1 L161.7,625.2 L162.5,625.2 L163.3,625.3 L164.2,625.4 L165.0,625.4 L165.9,625.5 L166.7,625.6 L167.6,625.6 L168.4,625.7 L169.3,625.8 L170.1,625.8 L171.0,625.9 L171.9,625.9 L172.8,626.0 L173.6,626.0 L174.5,626.1 L175.4,626.2 L176.3,626.2 L177.2,626.3 L178.1,626.3 L179.0,626.4 L179.9,626.4 L180.8,626.5 L181.7,626.5 L182.6,626.6 L183.5,626.6 L184.4,626.7 L185.4,626.7 L186.3,626.8 L187.2,626.8 L188.1,626.9 L189.1,626.9 L190.0,627.0 L190.9,627.0 L191.9,627.1 L192.8,627.1 L193.8,627.1 L194.7,627.2 L195.7,627.2 L196.7,627.3 L197.6,627.3 L198.6,627.4 L199.6,627.4 L200.5,627.4 L201.5,627.5 L202.5,627.5 L203.5,627.6 L204.4,627.6 L205.4,627.6 L206.4,627.7 L207.4,627.7 L208.4,627.7 L209.4,627.8 L210.4,627.8 L211.4,627.9 L212.5,627.9 L213.5,627.9 L214.5,628.0 L215.5,628.0 L216.5,628.0 L217.6,628.1 L218.6,628.1 L219.6,628.1 L220.7,628.2 L221.7,628.2 L222.8,628.2 L223.8,628.3 L224.9,628.3 L225.9,628.3 L227.0,628.3 L228.0,628.4 L229.1,628.4 L230.2,628.4 L231.2,628.5 L232.3,628.5 L233.4,628.5 L234.5,628.6 L235.6,628.6 L236.6,628.6 L237.7,628.6 L238.8,628.7 L239.9,628.7 L241.0,628.7 L242.1,628.8 L243.2,628.8 L244.4,628.8 L245.5,628.8 L246.6,628.9 L247.7,628.9 L248.8,628.9 L250.0,629.0 L251.1,629.0 L252.2,629.0 L253.4,629.0 L254.5,629.1 L255.6,629.1 L256.8,629.1 L257.9,629.1 L259.1,629.2 L260.2,629.2 L261.4,629.2 L262.6,629.2 L263.7,629.3 L264.9,629.3 L266.1,629.3 L267.3,629.3 L268.4,629.4 L269.6,629.4 L270.8,629.4 L272.0,629.4 L273.2,629.5 L274.4,629.5 L275.6,629.5 L276.8,629.5 L278.0,629.6 L279.2,629.6 L280.4,629.6 L281.6,629.6 L282.8,629.7 L284.1,629.7 L285.3,629.7 L286.5,629.7 L287.8,629.8 L289.0,629.8 L290.2,629.8 L291.5,629.8 L292.7,629.9 L294.0,629.9 L295.2,629.9 L296.5,629.9 L297.7,629.9 L299.0,630.0 L300.3,630.0 L301.5,630.0 L302.8,630.0 L304.1,630.1 L305.3,630.1 L306.6,630.1 L307.9,630.1 L309.2,630.2 L310.5,630.2 L311.8,630.2 L313.1,630.2 L314.4,630.3 L315.7,630.3 L317.0,630.3" fill="none" stroke="#ff1a1a" stroke-width="1.1" stroke-linejoin="round" />
<rect x="212.7" y="475.9" width="114.80000000000001" height="24.900000000000034" rx="1" fill="#fff" stroke="#8c8c8c" stroke-width="1"/>
<line x1="219.00" y1="484.20" x2="231.60" y2="484.20" stroke="#ff2a2a" stroke-width="1.2" />
<line x1="219.00" y1="492.70" x2="231.60" y2="492.70" stroke="#3a3aff" stroke-width="1" stroke-dasharray="2.2 1.6"/>
<text class="t" x="237.80" y="485.10" font-size="7.0">Number high risk</text>
<text class="t" x="237.80" y="493.60" font-size="7.0">Number high risk with event</text>
<text class="l" x="7.60" y="477.00" font-size="22" text-anchor="middle">e</text>
<line x1="398.10" y1="476.30" x2="398.10" y2="639.20" stroke="#ececec" stroke-width="0.8" />
<line x1="450.98" y1="476.30" x2="450.98" y2="639.20" stroke="#ececec" stroke-width="0.8" />
<line x1="503.86" y1="476.30" x2="503.86" y2="639.20" stroke="#ececec" stroke-width="0.8" />
<line x1="556.74" y1="476.30" x2="556.74" y2="639.20" stroke="#ececec" stroke-width="0.8" />
<line x1="609.62" y1="476.30" x2="609.62" y2="639.20" stroke="#ececec" stroke-width="0.8" />
<line x1="662.50" y1="476.30" x2="662.50" y2="639.20" stroke="#ececec" stroke-width="0.8" />
<line x1="387.60" y1="632.40" x2="672.60" y2="632.40" stroke="#ececec" stroke-width="0.8" />
<line x1="387.60" y1="602.38" x2="672.60" y2="602.38" stroke="#ececec" stroke-width="0.8" />
<line x1="387.60" y1="572.36" x2="672.60" y2="572.36" stroke="#ececec" stroke-width="0.8" />
<line x1="387.60" y1="542.34" x2="672.60" y2="542.34" stroke="#ececec" stroke-width="0.8" />
<line x1="387.60" y1="512.32" x2="672.60" y2="512.32" stroke="#ececec" stroke-width="0.8" />
<line x1="387.60" y1="482.30" x2="672.60" y2="482.30" stroke="#ececec" stroke-width="0.8" />
<line x1="387.60" y1="482.30" x2="387.60" y2="632.40" stroke="#555" stroke-width="1" />
<line x1="387.60" y1="632.40" x2="383.60" y2="632.40" stroke="#555" stroke-width="1" />
<text class="t" x="375.50" y="632.40" font-size="7.0" text-anchor="middle" transform="rotate(-90 375.50 632.40)">0</text>
<line x1="387.60" y1="602.38" x2="383.60" y2="602.38" stroke="#555" stroke-width="1" />
<text class="t" x="375.50" y="602.38" font-size="7.0" text-anchor="middle" transform="rotate(-90 375.50 602.38)">200</text>
<line x1="387.60" y1="572.36" x2="383.60" y2="572.36" stroke="#555" stroke-width="1" />
<text class="t" x="375.50" y="572.36" font-size="7.0" text-anchor="middle" transform="rotate(-90 375.50 572.36)">400</text>
<line x1="387.60" y1="542.34" x2="383.60" y2="542.34" stroke="#555" stroke-width="1" />
<text class="t" x="375.50" y="542.34" font-size="7.0" text-anchor="middle" transform="rotate(-90 375.50 542.34)">600</text>
<line x1="387.60" y1="512.32" x2="383.60" y2="512.32" stroke="#555" stroke-width="1" />
<text class="t" x="375.50" y="512.32" font-size="7.0" text-anchor="middle" transform="rotate(-90 375.50 512.32)">800</text>
<line x1="387.60" y1="482.30" x2="383.60" y2="482.30" stroke="#555" stroke-width="1" />
<text class="t" x="375.50" y="482.30" font-size="7.0" text-anchor="middle" transform="rotate(-90 375.50 482.30)">1000</text>
<text class="t" x="358.50" y="557.00" font-size="7.0" text-anchor="middle" transform="rotate(-90 358.50 557.00)">Number high risk (out of 1000)</text>
<line x1="398.10" y1="639.20" x2="662.50" y2="639.20" stroke="#555" stroke-width="1" />
<line x1="398.10" y1="639.20" x2="398.10" y2="642.70" stroke="#555" stroke-width="1" />
<text class="t" x="398.10" y="653.20" font-size="7.0" text-anchor="middle">0.0</text>
<line x1="450.98" y1="639.20" x2="450.98" y2="642.70" stroke="#555" stroke-width="1" />
<text class="t" x="450.98" y="653.20" font-size="7.0" text-anchor="middle">0.2</text>
<line x1="503.86" y1="639.20" x2="503.86" y2="642.70" stroke="#555" stroke-width="1" />
<text class="t" x="503.86" y="653.20" font-size="7.0" text-anchor="middle">0.4</text>
<line x1="556.74" y1="639.20" x2="556.74" y2="642.70" stroke="#555" stroke-width="1" />
<text class="t" x="556.74" y="653.20" font-size="7.0" text-anchor="middle">0.6</text>
<line x1="609.62" y1="639.20" x2="609.62" y2="642.70" stroke="#555" stroke-width="1" />
<text class="t" x="609.62" y="653.20" font-size="7.0" text-anchor="middle">0.8</text>
<line x1="662.50" y1="639.20" x2="662.50" y2="642.70" stroke="#555" stroke-width="1" />
<text class="t" x="662.50" y="653.20" font-size="7.0" text-anchor="middle">1.0</text>
<text class="t" x="530.30" y="662.20" font-size="7.0" text-anchor="middle">High Risk Threshold</text>
<line x1="400.72" y1="672.60" x2="659.88" y2="672.60" stroke="#555" stroke-width="1" />
<line x1="400.72" y1="672.60" x2="400.72" y2="676.10" stroke="#555" stroke-width="1" />
<text class="t" x="400.72" y="687.20" font-size="7.0" text-anchor="middle">1:100</text>
<line x1="442.17" y1="672.60" x2="442.17" y2="676.10" stroke="#555" stroke-width="1" />
<text class="t" x="442.17" y="687.20" font-size="7.0" text-anchor="middle">1:5</text>
<line x1="473.64" y1="672.60" x2="473.64" y2="676.10" stroke="#555" stroke-width="1" />
<text class="t" x="473.64" y="687.20" font-size="7.0" text-anchor="middle">2:5</text>
<line x1="511.41" y1="672.60" x2="511.41" y2="676.10" stroke="#555" stroke-width="1" />
<text class="t" x="511.41" y="687.20" font-size="7.0" text-anchor="middle">3:4</text>
<line x1="549.19" y1="672.60" x2="549.19" y2="676.10" stroke="#555" stroke-width="1" />
<text class="t" x="549.19" y="687.20" font-size="7.0" text-anchor="middle">4:3</text>
<line x1="586.96" y1="672.60" x2="586.96" y2="676.10" stroke="#555" stroke-width="1" />
<text class="t" x="586.96" y="687.20" font-size="7.0" text-anchor="middle">5:2</text>
<line x1="618.43" y1="672.60" x2="618.43" y2="676.10" stroke="#555" stroke-width="1" />
<text class="t" x="618.43" y="687.20" font-size="7.0" text-anchor="middle">5:1</text>
<line x1="659.88" y1="672.60" x2="659.88" y2="676.10" stroke="#555" stroke-width="1" />
<text class="t" x="659.88" y="687.20" font-size="7.0" text-anchor="middle">100:1</text>
<text class="t" x="530.30" y="695.60" font-size="7.0" text-anchor="middle">Cost:Benefit Ratio</text>
<path d="M398.1,617.5 L398.1,617.5 L398.1,617.5 L398.1,617.5 L398.1,617.5 L398.1,617.5 L398.2,617.5 L398.2,617.5 L398.2,617.5 L398.2,617.5 L398.3,617.5 L398.3,617.5 L398.3,617.5 L398.4,617.5 L398.4,617.5 L398.5,617.5 L398.5,617.5 L398.6,617.5 L398.6,617.5 L398.7,617.5 L398.8,617.5 L398.8,617.5 L398.9,617.5 L399.0,617.5 L399.1,617.5 L399.1,617.5 L399.2,617.6 L399.3,617.6 L399.4,617.6 L399.5,617.6 L399.6,617.6 L399.7,617.6 L399.8,617.6 L399.9,617.6 L400.0,617.6 L400.1,617.7 L400.3,617.7 L400.4,617.7 L400.5,617.7 L400.6,617.7 L400.8,617.7 L400.9,617.7 L401.0,617.8 L401.2,617.8 L401.3,617.8 L401.5,617.8 L401.6,617.8 L401.8,617.9 L401.9,617.9 L402.1,617.9 L402.3,617.9 L402.4,618.0 L402.6,618.0 L402.8,618.0 L402.9,618.1 L403.1,618.1 L403.3,618.1 L403.5,618.2 L403.7,618.2 L403.9,618.2 L404.1,618.3 L404.3,618.3 L404.5,618.3 L404.7,618.4 L404.9,618.4 L405.1,618.4 L405.3,618.5 L405.6,618.5 L405.8,618.6 L406.0,618.6 L406.2,618.7 L406.5,618.7 L406.7,618.7 L407.0,618.8 L407.2,618.8 L407.4,618.9 L407.7,618.9 L407.9,619.0 L408.2,619.0 L408.5,619.1 L408.7,619.2 L409.0,619.2 L409.3,619.3 L409.5,619.3 L409.8,619.4 L410.1,619.4 L410.4,619.5 L410.7,619.6 L411.0,619.6 L411.3,619.7 L411.6,619.7 L411.9,619.8 L412.2,619.9 L412.5,619.9 L412.8,620.0 L413.1,620.1 L413.4,620.1 L413.7,620.2 L414.1,620.3 L414.4,620.3 L414.7,620.4 L415.0,620.5 L415.4,620.5 L415.7,620.6 L416.1,620.7 L416.4,620.7 L416.8,620.8 L417.1,620.9 L417.5,621.0 L417.8,621.0 L418.2,621.1 L418.6,621.2 L418.9,621.2 L419.3,621.3 L419.7,621.4 L420.1,621.5 L420.4,621.5 L420.8,621.6 L421.2,621.7 L421.6,621.8 L422.0,621.8 L422.4,621.9 L422.8,622.0 L423.2,622.1 L423.6,622.1 L424.0,622.2 L424.5,622.3 L424.9,622.4 L425.3,622.4 L425.7,622.5 L426.2,622.6 L426.6,622.7 L427.0,622.8 L427.5,622.8 L427.9,622.9 L428.4,623.0 L428.8,623.1 L429.3,623.1 L429.7,623.2 L430.2,623.3 L430.7,623.4 L431.1,623.4 L431.6,623.5 L432.1,623.6 L432.5,623.6 L433.0,623.7 L433.5,623.8 L434.0,623.9 L434.5,623.9 L435.0,624.0 L435.5,624.1 L436.0,624.2 L436.5,624.2 L437.0,624.3 L437.5,624.4 L438.0,624.4 L438.5,624.5 L439.0,624.6 L439.6,624.6 L440.1,624.7 L440.6,624.8 L441.1,624.9 L441.7,624.9 L442.2,625.0 L442.8,625.1 L443.3,625.1 L443.9,625.2 L444.4,625.3 L445.0,625.3 L445.5,625.4 L446.1,625.5 L446.7,625.5 L447.2,625.6 L447.8,625.6 L448.4,625.7 L449.0,625.8 L449.5,625.8 L450.1,625.9 L450.7,625.9 L451.3,626.0 L451.9,626.1 L452.5,626.1 L453.1,626.2 L453.7,626.2 L454.3,626.3 L454.9,626.4 L455.6,626.4 L456.2,626.5 L456.8,626.5 L457.4,626.6 L458.1,626.6 L458.7,626.7 L459.3,626.8 L460.0,626.8 L460.6,626.9 L461.3,626.9 L461.9,627.0 L462.6,627.0 L463.2,627.1 L463.9,627.1 L464.5,627.2 L465.2,627.2 L465.9,627.3 L466.5,627.3 L467.2,627.4 L467.9,627.4 L468.6,627.5 L469.3,627.5 L470.0,627.6 L470.6,627.6 L471.3,627.7 L472.0,627.7 L472.7,627.7 L473.4,627.8 L474.2,627.8 L474.9,627.9 L475.6,627.9 L476.3,628.0 L477.0,628.0 L477.8,628.0 L478.5,628.1 L479.2,628.1 L480.0,628.2 L480.7,628.2 L481.4,628.3 L482.2,628.3 L482.9,628.3 L483.7,628.4 L484.4,628.4 L485.2,628.5 L486.0,628.5 L486.7,628.5 L487.5,628.6 L488.3,628.6 L489.0,628.6 L489.8,628.7 L490.6,628.7 L491.4,628.8 L492.2,628.8 L493.0,628.8 L493.8,628.9 L494.6,628.9 L495.4,628.9 L496.2,629.0 L497.0,629.0 L497.8,629.0 L498.6,629.1 L499.4,629.1 L500.2,629.1 L501.1,629.2 L501.9,629.2 L502.7,629.2 L503.6,629.3 L504.4,629.3 L505.2,629.3 L506.1,629.3 L506.9,629.4 L507.8,629.4 L508.6,629.4 L509.5,629.5 L510.4,629.5 L511.2,629.5 L512.1,629.6 L513.0,629.6 L513.9,629.6 L514.7,629.6 L515.6,629.7 L516.5,629.7 L517.4,629.7 L518.3,629.7 L519.2,629.8 L520.1,629.8 L521.0,629.8 L521.9,629.9 L522.8,629.9 L523.7,629.9 L524.6,629.9 L525.5,630.0 L526.5,630.0 L527.4,630.0 L528.3,630.0 L529.2,630.1 L530.2,630.1 L531.1,630.1 L532.1,630.1 L533.0,630.2 L533.9,630.2 L534.9,630.2 L535.9,630.2 L536.8,630.2 L537.8,630.3 L538.7,630.3 L539.7,630.3 L540.7,630.3 L541.7,630.4 L542.6,630.4 L543.6,630.4 L544.6,630.4 L545.6,630.5 L546.6,630.5 L547.6,630.5 L548.6,630.5 L549.6,630.5 L550.6,630.6 L551.6,630.6 L552.6,630.6 L553.6,630.6 L554.6,630.6 L555.6,630.7 L556.7,630.7 L557.7,630.7 L558.7,630.7 L559.8,630.7 L560.8,630.8 L561.8,630.8 L562.9,630.8 L563.9,630.8 L565.0,630.8 L566.0,630.9 L567.1,630.9 L568.2,630.9 L569.2,630.9 L570.3,630.9 L571.4,631.0 L572.4,631.0 L573.5,631.0 L574.6,631.0 L575.7,631.0 L576.8,631.1 L577.9,631.1 L579.0,631.1 L580.1,631.1 L581.2,631.1 L582.3,631.2 L583.4,631.2 L584.5,631.2 L585.6,631.2 L586.7,631.2 L587.8,631.3 L589.0,631.3 L590.1,631.3 L591.2,631.3 L592.4,631.3 L593.5,631.3 L594.6,631.4 L595.8,631.4 L596.9,631.4 L598.1,631.4 L599.2,631.4 L600.4,631.5 L601.5,631.5 L602.7,631.5 L603.9,631.5 L605.0,631.5 L606.2,631.5 L607.4,631.6 L608.6,631.6 L609.8,631.6 L611.0,631.6 L612.1,631.6 L613.3,631.7 L614.5,631.7 L615.7,631.7 L616.9,631.7 L618.1,631.7 L619.4,631.8 L620.6,631.8 L621.8,631.8 L623.0,631.8 L624.2,631.8 L625.5,631.8 L626.7,631.9 L627.9,631.9 L629.2,631.9 L630.4,631.9 L631.6,631.9 L632.9,632.0 L634.1,632.0 L635.4,632.0 L636.7,632.0 L637.9,632.0 L639.2,632.0 L640.4,632.1 L641.7,632.1 L643.0,632.1 L644.3,632.1 L645.6,632.1 L646.8,632.2 L648.1,632.2 L649.4,632.2 L650.7,632.2 L652.0,632.2 L653.3,632.3 L654.6,632.3 L655.9,632.3 L657.2,632.3 L658.5,632.3 L659.9,632.4 L661.2,632.4 L662.5,632.4" fill="none" stroke="#4545ff" stroke-width="0.9" stroke-linejoin="round" stroke-dasharray="2.2 4.5" stroke-dashoffset="-3.4"/>
<path d="M398.1,621.4 L398.1,621.4 L398.1,621.4 L398.1,621.4 L398.1,621.4 L398.1,621.4 L398.2,621.4 L398.2,621.4 L398.2,621.4 L398.2,621.4 L398.3,621.4 L398.3,621.4 L398.3,621.4 L398.4,621.4 L398.4,621.4 L398.5,621.4 L398.5,621.4 L398.6,621.4 L398.6,621.4 L398.7,621.4 L398.8,621.4 L398.8,621.4 L398.9,621.4 L399.0,621.5 L399.1,621.5 L399.1,621.5 L399.2,621.5 L399.3,621.5 L399.4,621.5 L399.5,621.5 L399.6,621.5 L399.7,621.6 L399.8,621.6 L399.9,621.6 L400.0,621.6 L400.1,621.6 L400.3,621.7 L400.4,621.7 L400.5,621.7 L400.6,621.7 L400.8,621.8 L400.9,621.8 L401.0,621.8 L401.2,621.8 L401.3,621.9 L401.5,621.9 L401.6,621.9 L401.8,622.0 L401.9,622.0 L402.1,622.0 L402.3,622.1 L402.4,622.1 L402.6,622.2 L402.8,622.2 L402.9,622.2 L403.1,622.3 L403.3,622.3 L403.5,622.4 L403.7,622.4 L403.9,622.5 L404.1,622.5 L404.3,622.6 L404.5,622.6 L404.7,622.7 L404.9,622.7 L405.1,622.8 L405.3,622.9 L405.6,622.9 L405.8,623.0 L406.0,623.0 L406.2,623.1 L406.5,623.1 L406.7,623.2 L407.0,623.3 L407.2,623.3 L407.4,623.4 L407.7,623.5 L407.9,623.5 L408.2,623.6 L408.5,623.7 L408.7,623.7 L409.0,623.8 L409.3,623.9 L409.5,623.9 L409.8,624.0 L410.1,624.1 L410.4,624.1 L410.7,624.2 L411.0,624.3 L411.3,624.4 L411.6,624.4 L411.9,624.5 L412.2,624.6 L412.5,624.6 L412.8,624.7 L413.1,624.8 L413.4,624.9 L413.7,624.9 L414.1,625.0 L414.4,625.1 L414.7,625.2 L415.0,625.2 L415.4,625.3 L415.7,625.4 L416.1,625.4 L416.4,625.5 L416.8,625.6 L417.1,625.7 L417.5,625.7 L417.8,625.8 L418.2,625.9 L418.6,625.9 L418.9,626.0 L419.3,626.1 L419.7,626.2 L420.1,626.2 L420.4,626.3 L420.8,626.4 L421.2,626.4 L421.6,626.5 L422.0,626.6 L422.4,626.6 L422.8,626.7 L423.2,626.8 L423.6,626.8 L424.0,626.9 L424.5,627.0 L424.9,627.0 L425.3,627.1 L425.7,627.1 L426.2,627.2 L426.6,627.3 L427.0,627.3 L427.5,627.4 L427.9,627.5 L428.4,627.5 L428.8,627.6 L429.3,627.6 L429.7,627.7 L430.2,627.7 L430.7,627.8 L431.1,627.9 L431.6,627.9 L432.1,628.0 L432.5,628.0 L433.0,628.1 L433.5,628.1 L434.0,628.2 L434.5,628.2 L435.0,628.3 L435.5,628.3 L436.0,628.4 L436.5,628.4 L437.0,628.5 L437.5,628.5 L438.0,628.6 L438.5,628.6 L439.0,628.7 L439.6,628.7 L440.1,628.8 L440.6,628.8 L441.1,628.8 L441.7,628.9 L442.2,628.9 L442.8,629.0 L443.3,629.0 L443.9,629.1 L444.4,629.1 L445.0,629.1 L445.5,629.2 L446.1,629.2 L446.7,629.3 L447.2,629.3 L447.8,629.3 L448.4,629.4 L449.0,629.4 L449.5,629.4 L450.1,629.5 L450.7,629.5 L451.3,629.6 L451.9,629.6 L452.5,629.6 L453.1,629.7 L453.7,629.7 L454.3,629.7 L454.9,629.8 L455.6,629.8 L456.2,629.8 L456.8,629.8 L457.4,629.9 L458.1,629.9 L458.7,629.9 L459.3,630.0 L460.0,630.0 L460.6,630.0 L461.3,630.1 L461.9,630.1 L462.6,630.1 L463.2,630.1 L463.9,630.2 L464.5,630.2 L465.2,630.2 L465.9,630.2 L466.5,630.3 L467.2,630.3 L467.9,630.3 L468.6,630.3 L469.3,630.4 L470.0,630.4 L470.6,630.4 L471.3,630.4 L472.0,630.5 L472.7,630.5 L473.4,630.5 L474.2,630.5 L474.9,630.5 L475.6,630.6 L476.3,630.6 L477.0,630.6 L477.8,630.6 L478.5,630.6 L479.2,630.7 L480.0,630.7 L480.7,630.7 L481.4,630.7 L482.2,630.7 L482.9,630.8 L483.7,630.8 L484.4,630.8 L485.2,630.8 L486.0,630.8 L486.7,630.9 L487.5,630.9 L488.3,630.9 L489.0,630.9 L489.8,630.9 L490.6,630.9 L491.4,631.0 L492.2,631.0 L493.0,631.0 L493.8,631.0 L494.6,631.0 L495.4,631.0 L496.2,631.0 L497.0,631.1 L497.8,631.1 L498.6,631.1 L499.4,631.1 L500.2,631.1 L501.1,631.1 L501.9,631.2 L502.7,631.2 L503.6,631.2 L504.4,631.2 L505.2,631.2 L506.1,631.2 L506.9,631.2 L507.8,631.2 L508.6,631.3 L509.5,631.3 L510.4,631.3 L511.2,631.3 L512.1,631.3 L513.0,631.3 L513.9,631.3 L514.7,631.3 L515.6,631.4 L516.5,631.4 L517.4,631.4 L518.3,631.4 L519.2,631.4 L520.1,631.4 L521.0,631.4 L521.9,631.4 L522.8,631.4 L523.7,631.5 L524.6,631.5 L525.5,631.5 L526.5,631.5 L527.4,631.5 L528.3,631.5 L529.2,631.5 L530.2,631.5 L531.1,631.5 L532.1,631.5 L533.0,631.6 L533.9,631.6 L534.9,631.6 L535.9,631.6 L536.8,631.6 L537.8,631.6 L538.7,631.6 L539.7,631.6 L540.7,631.6 L541.7,631.6 L542.6,631.6 L543.6,631.7 L544.6,631.7 L545.6,631.7 L546.6,631.7 L547.6,631.7 L548.6,631.7 L549.6,631.7 L550.6,631.7 L551.6,631.7 L552.6,631.7 L553.6,631.7 L554.6,631.8 L555.6,631.8 L556.7,631.8 L557.7,631.8 L558.7,631.8 L559.8,631.8 L560.8,631.8 L561.8,631.8 L562.9,631.8 L563.9,631.8 L565.0,631.8 L566.0,631.8 L567.1,631.8 L568.2,631.9 L569.2,631.9 L570.3,631.9 L571.4,631.9 L572.4,631.9 L573.5,631.9 L574.6,631.9 L575.7,631.9 L576.8,631.9 L577.9,631.9 L579.0,631.9 L580.1,631.9 L581.2,631.9 L582.3,631.9 L583.4,632.0 L584.5,632.0 L585.6,632.0 L586.7,632.0 L587.8,632.0 L589.0,632.0 L590.1,632.0 L591.2,632.0 L592.4,632.0 L593.5,632.0 L594.6,632.0 L595.8,632.0 L596.9,632.0 L598.1,632.0 L599.2,632.1 L600.4,632.1 L601.5,632.1 L602.7,632.1 L603.9,632.1 L605.0,632.1 L606.2,632.1 L607.4,632.1 L608.6,632.1 L609.8,632.1 L611.0,632.1 L612.1,632.1 L613.3,632.1 L614.5,632.1 L615.7,632.1 L616.9,632.2 L618.1,632.2 L619.4,632.2 L620.6,632.2 L621.8,632.2 L623.0,632.2 L624.2,632.2 L625.5,632.2 L626.7,632.2 L627.9,632.2 L629.2,632.2 L630.4,632.2 L631.6,632.2 L632.9,632.2 L634.1,632.2 L635.4,632.3 L636.7,632.3 L637.9,632.3 L639.2,632.3 L640.4,632.3 L641.7,632.3 L643.0,632.3 L644.3,632.3 L645.6,632.3 L646.8,632.3 L648.1,632.3 L649.4,632.3 L650.7,632.3 L652.0,632.3 L653.3,632.4 L654.6,632.4 L655.9,632.4 L657.2,632.4 L658.5,632.4 L659.9,632.4 L661.2,632.4 L662.5,632.4" fill="none" stroke="#4545ff" stroke-width="0.9" stroke-linejoin="round" stroke-dasharray="2.2 4.5" stroke-dashoffset="-3.4"/>
<path d="M398.1,619.4 L398.1,619.4 L398.1,619.4 L398.1,619.4 L398.1,619.4 L398.1,619.4 L398.2,619.4 L398.2,619.4 L398.2,619.4 L398.2,619.4 L398.3,619.4 L398.3,619.4 L398.3,619.4 L398.4,619.4 L398.4,619.4 L398.5,619.4 L398.5,619.5 L398.6,619.5 L398.6,619.5 L398.7,619.5 L398.8,619.5 L398.8,619.5 L398.9,619.5 L399.0,619.5 L399.1,619.5 L399.1,619.5 L399.2,619.5 L399.3,619.5 L399.4,619.5 L399.5,619.6 L399.6,619.6 L399.7,619.6 L399.8,619.6 L399.9,619.6 L400.0,619.6 L400.1,619.6 L400.3,619.7 L400.4,619.7 L400.5,619.7 L400.6,619.7 L400.8,619.7 L400.9,619.8 L401.0,619.8 L401.2,619.8 L401.3,619.8 L401.5,619.9 L401.6,619.9 L401.8,619.9 L401.9,619.9 L402.1,620.0 L402.3,620.0 L402.4,620.0 L402.6,620.1 L402.8,620.1 L402.9,620.1 L403.1,620.2 L403.3,620.2 L403.5,620.3 L403.7,620.3 L403.9,620.3 L404.1,620.4 L404.3,620.4 L404.5,620.5 L404.7,620.5 L404.9,620.6 L405.1,620.6 L405.3,620.7 L405.6,620.7 L405.8,620.8 L406.0,620.8 L406.2,620.9 L406.5,620.9 L406.7,621.0 L407.0,621.0 L407.2,621.1 L407.4,621.2 L407.7,621.2 L407.9,621.3 L408.2,621.3 L408.5,621.4 L408.7,621.5 L409.0,621.5 L409.3,621.6 L409.5,621.6 L409.8,621.7 L410.1,621.8 L410.4,621.8 L410.7,621.9 L411.0,622.0 L411.3,622.0 L411.6,622.1 L411.9,622.2 L412.2,622.3 L412.5,622.3 L412.8,622.4 L413.1,622.5 L413.4,622.5 L413.7,622.6 L414.1,622.7 L414.4,622.8 L414.7,622.8 L415.0,622.9 L415.4,623.0 L415.7,623.1 L416.1,623.1 L416.4,623.2 L416.8,623.3 L417.1,623.4 L417.5,623.4 L417.8,623.5 L418.2,623.6 L418.6,623.7 L418.9,623.7 L419.3,623.8 L419.7,623.9 L420.1,624.0 L420.4,624.0 L420.8,624.1 L421.2,624.2 L421.6,624.3 L422.0,624.3 L422.4,624.4 L422.8,624.5 L423.2,624.5 L423.6,624.6 L424.0,624.7 L424.5,624.8 L424.9,624.8 L425.3,624.9 L425.7,625.0 L426.2,625.1 L426.6,625.1 L427.0,625.2 L427.5,625.3 L427.9,625.3 L428.4,625.4 L428.8,625.5 L429.3,625.5 L429.7,625.6 L430.2,625.7 L430.7,625.8 L431.1,625.8 L431.6,625.9 L432.1,626.0 L432.5,626.0 L433.0,626.1 L433.5,626.2 L434.0,626.2 L434.5,626.3 L435.0,626.3 L435.5,626.4 L436.0,626.5 L436.5,626.5 L437.0,626.6 L437.5,626.7 L438.0,626.7 L438.5,626.8 L439.0,626.8 L439.6,626.9 L440.1,627.0 L440.6,627.0 L441.1,627.1 L441.7,627.1 L442.2,627.2 L442.8,627.2 L443.3,627.3 L443.9,627.4 L444.4,627.4 L445.0,627.5 L445.5,627.5 L446.1,627.6 L446.7,627.6 L447.2,627.7 L447.8,627.7 L448.4,627.8 L449.0,627.8 L449.5,627.9 L450.1,627.9 L450.7,628.0 L451.3,628.0 L451.9,628.1 L452.5,628.1 L453.1,628.2 L453.7,628.2 L454.3,628.2 L454.9,628.3 L455.6,628.3 L456.2,628.4 L456.8,628.4 L457.4,628.5 L458.1,628.5 L458.7,628.6 L459.3,628.6 L460.0,628.6 L460.6,628.7 L461.3,628.7 L461.9,628.8 L462.6,628.8 L463.2,628.8 L463.9,628.9 L464.5,628.9 L465.2,628.9 L465.9,629.0 L466.5,629.0 L467.2,629.1 L467.9,629.1 L468.6,629.1 L469.3,629.2 L470.0,629.2 L470.6,629.2 L471.3,629.3 L472.0,629.3 L472.7,629.3 L473.4,629.4 L474.2,629.4 L474.9,629.4 L475.6,629.5 L476.3,629.5 L477.0,629.5 L477.8,629.6 L478.5,629.6 L479.2,629.6 L480.0,629.6 L480.7,629.7 L481.4,629.7 L482.2,629.7 L482.9,629.8 L483.7,629.8 L484.4,629.8 L485.2,629.8 L486.0,629.9 L486.7,629.9 L487.5,629.9 L488.3,630.0 L489.0,630.0 L489.8,630.0 L490.6,630.0 L491.4,630.1 L492.2,630.1 L493.0,630.1 L493.8,630.1 L494.6,630.1 L495.4,630.2 L496.2,630.2 L497.0,630.2 L497.8,630.2 L498.6,630.3 L499.4,630.3 L500.2,630.3 L501.1,630.3 L501.9,630.4 L502.7,630.4 L503.6,630.4 L504.4,630.4 L505.2,630.4 L506.1,630.5 L506.9,630.5 L507.8,630.5 L508.6,630.5 L509.5,630.5 L510.4,630.6 L511.2,630.6 L512.1,630.6 L513.0,630.6 L513.9,630.6 L514.7,630.7 L515.6,630.7 L516.5,630.7 L517.4,630.7 L518.3,630.7 L519.2,630.7 L520.1,630.8 L521.0,630.8 L521.9,630.8 L522.8,630.8 L523.7,630.8 L524.6,630.9 L525.5,630.9 L526.5,630.9 L527.4,630.9 L528.3,630.9 L529.2,630.9 L530.2,630.9 L531.1,631.0 L532.1,631.0 L533.0,631.0 L533.9,631.0 L534.9,631.0 L535.9,631.0 L536.8,631.1 L537.8,631.1 L538.7,631.1 L539.7,631.1 L540.7,631.1 L541.7,631.1 L542.6,631.1 L543.6,631.2 L544.6,631.2 L545.6,631.2 L546.6,631.2 L547.6,631.2 L548.6,631.2 L549.6,631.2 L550.6,631.3 L551.6,631.3 L552.6,631.3 L553.6,631.3 L554.6,631.3 L555.6,631.3 L556.7,631.3 L557.7,631.4 L558.7,631.4 L559.8,631.4 L560.8,631.4 L561.8,631.4 L562.9,631.4 L563.9,631.4 L565.0,631.4 L566.0,631.5 L567.1,631.5 L568.2,631.5 L569.2,631.5 L570.3,631.5 L571.4,631.5 L572.4,631.5 L573.5,631.5 L574.6,631.6 L575.7,631.6 L576.8,631.6 L577.9,631.6 L579.0,631.6 L580.1,631.6 L581.2,631.6 L582.3,631.6 L583.4,631.6 L584.5,631.7 L585.6,631.7 L586.7,631.7 L587.8,631.7 L589.0,631.7 L590.1,631.7 L591.2,631.7 L592.4,631.7 L593.5,631.8 L594.6,631.8 L595.8,631.8 L596.9,631.8 L598.1,631.8 L599.2,631.8 L600.4,631.8 L601.5,631.8 L602.7,631.8 L603.9,631.9 L605.0,631.9 L606.2,631.9 L607.4,631.9 L608.6,631.9 L609.8,631.9 L611.0,631.9 L612.1,631.9 L613.3,631.9 L614.5,632.0 L615.7,632.0 L616.9,632.0 L618.1,632.0 L619.4,632.0 L620.6,632.0 L621.8,632.0 L623.0,632.0 L624.2,632.0 L625.5,632.1 L626.7,632.1 L627.9,632.1 L629.2,632.1 L630.4,632.1 L631.6,632.1 L632.9,632.1 L634.1,632.1 L635.4,632.2 L636.7,632.2 L637.9,632.2 L639.2,632.2 L640.4,632.2 L641.7,632.2 L643.0,632.2 L644.3,632.2 L645.6,632.2 L646.8,632.3 L648.1,632.3 L649.4,632.3 L650.7,632.3 L652.0,632.3 L653.3,632.3 L654.6,632.3 L655.9,632.3 L657.2,632.4 L658.5,632.4 L659.9,632.4 L661.2,632.4 L662.5,632.4" fill="none" stroke="#2a2aff" stroke-width="1.1" stroke-linejoin="round" stroke-dasharray="3.3 3.4"/>
<path d="M398.1,482.3 L398.1,482.3 L398.1,482.3 L398.1,482.3 L398.1,482.3 L398.1,482.3 L398.2,482.3 L398.2,482.4 L398.2,482.4 L398.2,482.4 L398.3,482.5 L398.3,482.5 L398.3,482.6 L398.4,482.7 L398.4,482.8 L398.5,483.0 L398.5,483.1 L398.6,483.3 L398.6,483.5 L398.7,483.7 L398.8,484.0 L398.8,484.3 L398.9,484.6 L399.0,485.0 L399.1,485.3 L399.1,485.8 L399.2,486.2 L399.3,486.7 L399.4,487.2 L399.5,487.8 L399.6,488.4 L399.7,489.1 L399.8,489.8 L399.9,490.5 L400.0,491.3 L400.1,492.1 L400.3,493.0 L400.4,493.9 L400.5,494.9 L400.6,495.9 L400.8,496.9 L400.9,498.0 L401.0,499.1 L401.2,500.3 L401.3,501.5 L401.5,502.7 L401.6,504.0 L401.8,505.4 L401.9,506.7 L402.1,508.1 L402.3,509.5 L402.4,511.0 L402.6,512.5 L402.8,514.0 L402.9,515.5 L403.1,517.1 L403.3,518.7 L403.5,520.3 L403.7,521.9 L403.9,523.5 L404.1,525.2 L404.3,526.8 L404.5,528.5 L404.7,530.2 L404.9,531.8 L405.1,533.5 L405.3,535.2 L405.6,536.9 L405.8,538.6 L406.0,540.2 L406.2,541.9 L406.5,543.6 L406.7,545.2 L407.0,546.8 L407.2,548.5 L407.4,550.1 L407.7,551.7 L407.9,553.2 L408.2,554.8 L408.5,556.4 L408.7,557.9 L409.0,559.4 L409.3,560.9 L409.5,562.3 L409.8,563.8 L410.1,565.2 L410.4,566.6 L410.7,568.0 L411.0,569.3 L411.3,570.7 L411.6,572.0 L411.9,573.3 L412.2,574.5 L412.5,575.8 L412.8,577.0 L413.1,578.2 L413.4,579.4 L413.7,580.5 L414.1,581.6 L414.4,582.7 L414.7,583.8 L415.0,584.8 L415.4,585.9 L415.7,586.9 L416.1,587.9 L416.4,588.8 L416.8,589.8 L417.1,590.7 L417.5,591.6 L417.8,592.5 L418.2,593.3 L418.6,594.2 L418.9,595.0 L419.3,595.8 L419.7,596.6 L420.1,597.3 L420.4,598.1 L420.8,598.8 L421.2,599.5 L421.6,600.2 L422.0,600.9 L422.4,601.6 L422.8,602.2 L423.2,602.8 L423.6,603.5 L424.0,604.1 L424.5,604.7 L424.9,605.2 L425.3,605.8 L425.7,606.3 L426.2,606.9 L426.6,607.4 L427.0,607.9 L427.5,608.4 L427.9,608.9 L428.4,609.4 L428.8,609.8 L429.3,610.3 L429.7,610.7 L430.2,611.1 L430.7,611.6 L431.1,612.0 L431.6,612.4 L432.1,612.8 L432.5,613.1 L433.0,613.5 L433.5,613.9 L434.0,614.2 L434.5,614.6 L435.0,614.9 L435.5,615.3 L436.0,615.6 L436.5,615.9 L437.0,616.2 L437.5,616.5 L438.0,616.8 L438.5,617.1 L439.0,617.4 L439.6,617.6 L440.1,617.9 L440.6,618.2 L441.1,618.4 L441.7,618.7 L442.2,618.9 L442.8,619.2 L443.3,619.4 L443.9,619.6 L444.4,619.9 L445.0,620.1 L445.5,620.3 L446.1,620.5 L446.7,620.7 L447.2,620.9 L447.8,621.1 L448.4,621.3 L449.0,621.5 L449.5,621.7 L450.1,621.9 L450.7,622.1 L451.3,622.2 L451.9,622.4 L452.5,622.6 L453.1,622.7 L453.7,622.9 L454.3,623.0 L454.9,623.2 L455.6,623.3 L456.2,623.5 L456.8,623.6 L457.4,623.8 L458.1,623.9 L458.7,624.1 L459.3,624.2 L460.0,624.3 L460.6,624.4 L461.3,624.6 L461.9,624.7 L462.6,624.8 L463.2,624.9 L463.9,625.0 L464.5,625.2 L465.2,625.3 L465.9,625.4 L466.5,625.5 L467.2,625.6 L467.9,625.7 L468.6,625.8 L469.3,625.9 L470.0,626.0 L470.6,626.1 L471.3,626.2 L472.0,626.3 L472.7,626.4 L473.4,626.5 L474.2,626.5 L474.9,626.6 L475.6,626.7 L476.3,626.8 L477.0,626.9 L477.8,627.0 L478.5,627.0 L479.2,627.1 L480.0,627.2 L480.7,627.3 L481.4,627.3 L482.2,627.4 L482.9,627.5 L483.7,627.5 L484.4,627.6 L485.2,627.7 L486.0,627.8 L486.7,627.8 L487.5,627.9 L488.3,627.9 L489.0,628.0 L489.8,628.1 L490.6,628.1 L491.4,628.2 L492.2,628.2 L493.0,628.3 L493.8,628.4 L494.6,628.4 L495.4,628.5 L496.2,628.5 L497.0,628.6 L497.8,628.6 L498.6,628.7 L499.4,628.7 L500.2,628.8 L501.1,628.8 L501.9,628.9 L502.7,628.9 L503.6,629.0 L504.4,629.0 L505.2,629.0 L506.1,629.1 L506.9,629.1 L507.8,629.2 L508.6,629.2 L509.5,629.3 L510.4,629.3 L511.2,629.3 L512.1,629.4 L513.0,629.4 L513.9,629.5 L514.7,629.5 L515.6,629.5 L516.5,629.6 L517.4,629.6 L518.3,629.7 L519.2,629.7 L520.1,629.7 L521.0,629.8 L521.9,629.8 L522.8,629.8 L523.7,629.9 L524.6,629.9 L525.5,629.9 L526.5,630.0 L527.4,630.0 L528.3,630.0 L529.2,630.1 L530.2,630.1 L531.1,630.1 L532.1,630.1 L533.0,630.2 L533.9,630.2 L534.9,630.2 L535.9,630.3 L536.8,630.3 L537.8,630.3 L538.7,630.3 L539.7,630.4 L540.7,630.4 L541.7,630.4 L542.6,630.5 L543.6,630.5 L544.6,630.5 L545.6,630.5 L546.6,630.6 L547.6,630.6 L548.6,630.6 L549.6,630.6 L550.6,630.7 L551.6,630.7 L552.6,630.7 L553.6,630.7 L554.6,630.7 L555.6,630.8 L556.7,630.8 L557.7,630.8 L558.7,630.8 L559.8,630.9 L560.8,630.9 L561.8,630.9 L562.9,630.9 L563.9,630.9 L565.0,631.0 L566.0,631.0 L567.1,631.0 L568.2,631.0 L569.2,631.1 L570.3,631.1 L571.4,631.1 L572.4,631.1 L573.5,631.1 L574.6,631.2 L575.7,631.2 L576.8,631.2 L577.9,631.2 L579.0,631.2 L580.1,631.3 L581.2,631.3 L582.3,631.3 L583.4,631.3 L584.5,631.3 L585.6,631.3 L586.7,631.4 L587.8,631.4 L589.0,631.4 L590.1,631.4 L591.2,631.4 L592.4,631.5 L593.5,631.5 L594.6,631.5 L595.8,631.5 L596.9,631.5 L598.1,631.5 L599.2,631.6 L600.4,631.6 L601.5,631.6 L602.7,631.6 L603.9,631.6 L605.0,631.6 L606.2,631.7 L607.4,631.7 L608.6,631.7 L609.8,631.7 L611.0,631.7 L612.1,631.7 L613.3,631.8 L614.5,631.8 L615.7,631.8 L616.9,631.8 L618.1,631.8 L619.4,631.8 L620.6,631.9 L621.8,631.9 L623.0,631.9 L624.2,631.9 L625.5,631.9 L626.7,631.9 L627.9,632.0 L629.2,632.0 L630.4,632.0 L631.6,632.0 L632.9,632.0 L634.1,632.0 L635.4,632.1 L636.7,632.1 L637.9,632.1 L639.2,632.1 L640.4,632.1 L641.7,632.1 L643.0,632.2 L644.3,632.2 L645.6,632.2 L646.8,632.2 L648.1,632.2 L649.4,632.2 L650.7,632.3 L652.0,632.3 L653.3,632.3 L654.6,632.3 L655.9,632.3 L657.2,632.3 L658.5,632.4 L659.9,632.4 L661.2,632.4 L662.5,632.4" fill="none" stroke="#ff2a2a" stroke-width="0.8" stroke-linejoin="round" />
<path d="M398.1,482.3 L398.1,482.3 L398.1,482.3 L398.1,482.3 L398.1,482.3 L398.1,482.3 L398.2,482.3 L398.2,482.3 L398.2,482.3 L398.2,482.3 L398.3,482.3 L398.3,482.4 L398.3,482.4 L398.4,482.4 L398.4,482.4 L398.5,482.5 L398.5,482.5 L398.6,482.6 L398.6,482.7 L398.7,482.7 L398.8,482.8 L398.8,482.9 L398.9,483.0 L399.0,483.1 L399.1,483.3 L399.1,483.4 L399.2,483.6 L399.3,483.8 L399.4,484.0 L399.5,484.2 L399.6,484.4 L399.7,484.7 L399.8,485.0 L399.9,485.3 L400.0,485.6 L400.1,486.0 L400.3,486.3 L400.4,486.7 L400.5,487.2 L400.6,487.6 L400.8,488.1 L400.9,488.6 L401.0,489.2 L401.2,489.7 L401.3,490.3 L401.5,490.9 L401.6,491.6 L401.8,492.3 L401.9,493.0 L402.1,493.8 L402.3,494.5 L402.4,495.4 L402.6,496.2 L402.8,497.1 L402.9,498.0 L403.1,498.9 L403.3,499.9 L403.5,500.9 L403.7,501.9 L403.9,503.0 L404.1,504.1 L404.3,505.2 L404.5,506.3 L404.7,507.5 L404.9,508.7 L405.1,509.9 L405.3,511.1 L405.6,512.4 L405.8,513.7 L406.0,515.0 L406.2,516.3 L406.5,517.7 L406.7,519.0 L407.0,520.4 L407.2,521.8 L407.4,523.2 L407.7,524.6 L407.9,526.0 L408.2,527.5 L408.5,528.9 L408.7,530.3 L409.0,531.8 L409.3,533.3 L409.5,534.7 L409.8,536.2 L410.1,537.6 L410.4,539.1 L410.7,540.5 L411.0,542.0 L411.3,543.4 L411.6,544.9 L411.9,546.3 L412.2,547.7 L412.5,549.2 L412.8,550.6 L413.1,552.0 L413.4,553.4 L413.7,554.7 L414.1,556.1 L414.4,557.5 L414.7,558.8 L415.0,560.1 L415.4,561.4 L415.7,562.7 L416.1,564.0 L416.4,565.3 L416.8,566.5 L417.1,567.7 L417.5,568.9 L417.8,570.1 L418.2,571.3 L418.6,572.5 L418.9,573.6 L419.3,574.7 L419.7,575.8 L420.1,576.9 L420.4,578.0 L420.8,579.1 L421.2,580.1 L421.6,581.1 L422.0,582.1 L422.4,583.1 L422.8,584.0 L423.2,585.0 L423.6,585.9 L424.0,586.8 L424.5,587.7 L424.9,588.6 L425.3,589.5 L425.7,590.3 L426.2,591.1 L426.6,591.9 L427.0,592.7 L427.5,593.5 L427.9,594.3 L428.4,595.0 L428.8,595.7 L429.3,596.5 L429.7,597.2 L430.2,597.8 L430.7,598.5 L431.1,599.2 L431.6,599.8 L432.1,600.4 L432.5,601.1 L433.0,601.7 L433.5,602.3 L434.0,602.8 L434.5,603.4 L435.0,604.0 L435.5,604.5 L436.0,605.0 L436.5,605.6 L437.0,606.1 L437.5,606.6 L438.0,607.1 L438.5,607.5 L439.0,608.0 L439.6,608.5 L440.1,608.9 L440.6,609.3 L441.1,609.8 L441.7,610.2 L442.2,610.6 L442.8,611.0 L443.3,611.4 L443.9,611.8 L444.4,612.2 L445.0,612.5 L445.5,612.9 L446.1,613.2 L446.7,613.6 L447.2,613.9 L447.8,614.3 L448.4,614.6 L449.0,614.9 L449.5,615.2 L450.1,615.5 L450.7,615.8 L451.3,616.1 L451.9,616.4 L452.5,616.7 L453.1,616.9 L453.7,617.2 L454.3,617.5 L454.9,617.7 L455.6,618.0 L456.2,618.2 L456.8,618.5 L457.4,618.7 L458.1,618.9 L458.7,619.2 L459.3,619.4 L460.0,619.6 L460.6,619.8 L461.3,620.0 L461.9,620.2 L462.6,620.5 L463.2,620.6 L463.9,620.8 L464.5,621.0 L465.2,621.2 L465.9,621.4 L466.5,621.6 L467.2,621.8 L467.9,621.9 L468.6,622.1 L469.3,622.3 L470.0,622.4 L470.6,622.6 L471.3,622.7 L472.0,622.9 L472.7,623.0 L473.4,623.2 L474.2,623.3 L474.9,623.5 L475.6,623.6 L476.3,623.8 L477.0,623.9 L477.8,624.0 L478.5,624.2 L479.2,624.3 L480.0,624.4 L480.7,624.5 L481.4,624.6 L482.2,624.8 L482.9,624.9 L483.7,625.0 L484.4,625.1 L485.2,625.2 L486.0,625.3 L486.7,625.4 L487.5,625.5 L488.3,625.6 L489.0,625.7 L489.8,625.8 L490.6,625.9 L491.4,626.0 L492.2,626.1 L493.0,626.2 L493.8,626.3 L494.6,626.4 L495.4,626.5 L496.2,626.6 L497.0,626.7 L497.8,626.7 L498.6,626.8 L499.4,626.9 L500.2,627.0 L501.1,627.1 L501.9,627.1 L502.7,627.2 L503.6,627.3 L504.4,627.4 L505.2,627.4 L506.1,627.5 L506.9,627.6 L507.8,627.6 L508.6,627.7 L509.5,627.8 L510.4,627.8 L511.2,627.9 L512.1,628.0 L513.0,628.0 L513.9,628.1 L514.7,628.1 L515.6,628.2 L516.5,628.3 L517.4,628.3 L518.3,628.4 L519.2,628.4 L520.1,628.5 L521.0,628.6 L521.9,628.6 L522.8,628.7 L523.7,628.7 L524.6,628.8 L525.5,628.8 L526.5,628.9 L527.4,628.9 L528.3,629.0 L529.2,629.0 L530.2,629.1 L531.1,629.1 L532.1,629.2 L533.0,629.2 L533.9,629.2 L534.9,629.3 L535.9,629.3 L536.8,629.4 L537.8,629.4 L538.7,629.5 L539.7,629.5 L540.7,629.5 L541.7,629.6 L542.6,629.6 L543.6,629.7 L544.6,629.7 L545.6,629.7 L546.6,629.8 L547.6,629.8 L548.6,629.9 L549.6,629.9 L550.6,629.9 L551.6,630.0 L552.6,630.0 L553.6,630.0 L554.6,630.1 L555.6,630.1 L556.7,630.1 L557.7,630.2 L558.7,630.2 L559.8,630.2 L560.8,630.3 L561.8,630.3 L562.9,630.3 L563.9,630.4 L565.0,630.4 L566.0,630.4 L567.1,630.5 L568.2,630.5 L569.2,630.5 L570.3,630.6 L571.4,630.6 L572.4,630.6 L573.5,630.6 L574.6,630.7 L575.7,630.7 L576.8,630.7 L577.9,630.8 L579.0,630.8 L580.1,630.8 L581.2,630.8 L582.3,630.9 L583.4,630.9 L584.5,630.9 L585.6,631.0 L586.7,631.0 L587.8,631.0 L589.0,631.0 L590.1,631.1 L591.2,631.1 L592.4,631.1 L593.5,631.1 L594.6,631.2 L595.8,631.2 L596.9,631.2 L598.1,631.2 L599.2,631.3 L600.4,631.3 L601.5,631.3 L602.7,631.3 L603.9,631.4 L605.0,631.4 L606.2,631.4 L607.4,631.4 L608.6,631.5 L609.8,631.5 L611.0,631.5 L612.1,631.5 L613.3,631.5 L614.5,631.6 L615.7,631.6 L616.9,631.6 L618.1,631.6 L619.4,631.7 L620.6,631.7 L621.8,631.7 L623.0,631.7 L624.2,631.8 L625.5,631.8 L626.7,631.8 L627.9,631.8 L629.2,631.8 L630.4,631.9 L631.6,631.9 L632.9,631.9 L634.1,631.9 L635.4,632.0 L636.7,632.0 L637.9,632.0 L639.2,632.0 L640.4,632.0 L641.7,632.1 L643.0,632.1 L644.3,632.1 L645.6,632.1 L646.8,632.1 L648.1,632.2 L649.4,632.2 L650.7,632.2 L652.0,632.2 L653.3,632.3 L654.6,632.3 L655.9,632.3 L657.2,632.3 L658.5,632.3 L659.9,632.4 L661.2,632.4 L662.5,632.4" fill="none" stroke="#ff2a2a" stroke-width="0.8" stroke-linejoin="round" />
<path d="M398.1,482.3 L398.1,482.3 L398.1,482.3 L398.1,482.3 L398.1,482.3 L398.1,482.3 L398.2,482.3 L398.2,482.3 L398.2,482.3 L398.2,482.3 L398.3,482.4 L398.3,482.4 L398.3,482.4 L398.4,482.5 L398.4,482.5 L398.5,482.6 L398.5,482.7 L398.6,482.7 L398.6,482.8 L398.7,482.9 L398.8,483.1 L398.8,483.2 L398.9,483.4 L399.0,483.5 L399.1,483.7 L399.1,483.9 L399.2,484.2 L399.3,484.4 L399.4,484.7 L399.5,485.0 L399.6,485.4 L399.7,485.7 L399.8,486.1 L399.9,486.6 L400.0,487.0 L400.1,487.5 L400.3,488.0 L400.4,488.6 L400.5,489.1 L400.6,489.7 L400.8,490.4 L400.9,491.1 L401.0,491.8 L401.2,492.6 L401.3,493.4 L401.5,494.2 L401.6,495.0 L401.8,496.0 L401.9,496.9 L402.1,497.9 L402.3,498.9 L402.4,499.9 L402.6,501.0 L402.8,502.1 L402.9,503.3 L403.1,504.4 L403.3,505.7 L403.5,506.9 L403.7,508.2 L403.9,509.5 L404.1,510.8 L404.3,512.1 L404.5,513.5 L404.7,514.9 L404.9,516.4 L405.1,517.8 L405.3,519.3 L405.6,520.7 L405.8,522.2 L406.0,523.7 L406.2,525.3 L406.5,526.8 L406.7,528.3 L407.0,529.9 L407.2,531.4 L407.4,533.0 L407.7,534.6 L407.9,536.1 L408.2,537.7 L408.5,539.2 L408.7,540.8 L409.0,542.4 L409.3,543.9 L409.5,545.4 L409.8,547.0 L410.1,548.5 L410.4,550.0 L410.7,551.5 L411.0,553.0 L411.3,554.5 L411.6,555.9 L411.9,557.4 L412.2,558.8 L412.5,560.2 L412.8,561.6 L413.1,563.0 L413.4,564.3 L413.7,565.7 L414.1,567.0 L414.4,568.3 L414.7,569.6 L415.0,570.9 L415.4,572.1 L415.7,573.3 L416.1,574.5 L416.4,575.7 L416.8,576.9 L417.1,578.0 L417.5,579.1 L417.8,580.2 L418.2,581.3 L418.6,582.4 L418.9,583.4 L419.3,584.4 L419.7,585.4 L420.1,586.4 L420.4,587.3 L420.8,588.3 L421.2,589.2 L421.6,590.1 L422.0,591.0 L422.4,591.8 L422.8,592.7 L423.2,593.5 L423.6,594.3 L424.0,595.1 L424.5,595.9 L424.9,596.6 L425.3,597.4 L425.7,598.1 L426.2,598.8 L426.6,599.5 L427.0,600.2 L427.5,600.8 L427.9,601.5 L428.4,602.1 L428.8,602.7 L429.3,603.3 L429.7,603.9 L430.2,604.5 L430.7,605.1 L431.1,605.6 L431.6,606.2 L432.1,606.7 L432.5,607.2 L433.0,607.7 L433.5,608.2 L434.0,608.7 L434.5,609.1 L435.0,609.6 L435.5,610.0 L436.0,610.5 L436.5,610.9 L437.0,611.3 L437.5,611.7 L438.0,612.1 L438.5,612.5 L439.0,612.9 L439.6,613.3 L440.1,613.6 L440.6,614.0 L441.1,614.3 L441.7,614.7 L442.2,615.0 L442.8,615.3 L443.3,615.7 L443.9,616.0 L444.4,616.3 L445.0,616.6 L445.5,616.9 L446.1,617.2 L446.7,617.4 L447.2,617.7 L447.8,618.0 L448.4,618.2 L449.0,618.5 L449.5,618.7 L450.1,619.0 L450.7,619.2 L451.3,619.5 L451.9,619.7 L452.5,619.9 L453.1,620.1 L453.7,620.3 L454.3,620.5 L454.9,620.8 L455.6,621.0 L456.2,621.2 L456.8,621.3 L457.4,621.5 L458.1,621.7 L458.7,621.9 L459.3,622.1 L460.0,622.3 L460.6,622.4 L461.3,622.6 L461.9,622.8 L462.6,622.9 L463.2,623.1 L463.9,623.2 L464.5,623.4 L465.2,623.5 L465.9,623.7 L466.5,623.8 L467.2,623.9 L467.9,624.1 L468.6,624.2 L469.3,624.3 L470.0,624.5 L470.6,624.6 L471.3,624.7 L472.0,624.8 L472.7,625.0 L473.4,625.1 L474.2,625.2 L474.9,625.3 L475.6,625.4 L476.3,625.5 L477.0,625.6 L477.8,625.7 L478.5,625.8 L479.2,625.9 L480.0,626.0 L480.7,626.1 L481.4,626.2 L482.2,626.3 L482.9,626.4 L483.7,626.5 L484.4,626.6 L485.2,626.7 L486.0,626.8 L486.7,626.9 L487.5,626.9 L488.3,627.0 L489.0,627.1 L489.8,627.2 L490.6,627.3 L491.4,627.3 L492.2,627.4 L493.0,627.5 L493.8,627.5 L494.6,627.6 L495.4,627.7 L496.2,627.8 L497.0,627.8 L497.8,627.9 L498.6,627.9 L499.4,628.0 L500.2,628.1 L501.1,628.1 L501.9,628.2 L502.7,628.3 L503.6,628.3 L504.4,628.4 L505.2,628.4 L506.1,628.5 L506.9,628.5 L507.8,628.6 L508.6,628.7 L509.5,628.7 L510.4,628.8 L511.2,628.8 L512.1,628.9 L513.0,628.9 L513.9,629.0 L514.7,629.0 L515.6,629.0 L516.5,629.1 L517.4,629.1 L518.3,629.2 L519.2,629.2 L520.1,629.3 L521.0,629.3 L521.9,629.4 L522.8,629.4 L523.7,629.4 L524.6,629.5 L525.5,629.5 L526.5,629.6 L527.4,629.6 L528.3,629.6 L529.2,629.7 L530.2,629.7 L531.1,629.8 L532.1,629.8 L533.0,629.8 L533.9,629.9 L534.9,629.9 L535.9,629.9 L536.8,630.0 L537.8,630.0 L538.7,630.0 L539.7,630.1 L540.7,630.1 L541.7,630.1 L542.6,630.2 L543.6,630.2 L544.6,630.2 L545.6,630.3 L546.6,630.3 L547.6,630.3 L548.6,630.4 L549.6,630.4 L550.6,630.4 L551.6,630.4 L552.6,630.5 L553.6,630.5 L554.6,630.5 L555.6,630.6 L556.7,630.6 L557.7,630.6 L558.7,630.6 L559.8,630.7 L560.8,630.7 L561.8,630.7 L562.9,630.7 L563.9,630.8 L565.0,630.8 L566.0,630.8 L567.1,630.8 L568.2,630.9 L569.2,630.9 L570.3,630.9 L571.4,630.9 L572.4,631.0 L573.5,631.0 L574.6,631.0 L575.7,631.0 L576.8,631.1 L577.9,631.1 L579.0,631.1 L580.1,631.1 L581.2,631.1 L582.3,631.2 L583.4,631.2 L584.5,631.2 L585.6,631.2 L586.7,631.3 L587.8,631.3 L589.0,631.3 L590.1,631.3 L591.2,631.3 L592.4,631.4 L593.5,631.4 L594.6,631.4 L595.8,631.4 L596.9,631.4 L598.1,631.5 L599.2,631.5 L600.4,631.5 L601.5,631.5 L602.7,631.5 L603.9,631.6 L605.0,631.6 L606.2,631.6 L607.4,631.6 L608.6,631.6 L609.8,631.7 L611.0,631.7 L612.1,631.7 L613.3,631.7 L614.5,631.7 L615.7,631.7 L616.9,631.8 L618.1,631.8 L619.4,631.8 L620.6,631.8 L621.8,631.8 L623.0,631.9 L624.2,631.9 L625.5,631.9 L626.7,631.9 L627.9,631.9 L629.2,631.9 L630.4,632.0 L631.6,632.0 L632.9,632.0 L634.1,632.0 L635.4,632.0 L636.7,632.1 L637.9,632.1 L639.2,632.1 L640.4,632.1 L641.7,632.1 L643.0,632.1 L644.3,632.2 L645.6,632.2 L646.8,632.2 L648.1,632.2 L649.4,632.2 L650.7,632.2 L652.0,632.3 L653.3,632.3 L654.6,632.3 L655.9,632.3 L657.2,632.3 L658.5,632.3 L659.9,632.4 L661.2,632.4 L662.5,632.4" fill="none" stroke="#ff1a1a" stroke-width="1.2" stroke-linejoin="round" />
<rect x="557" y="476.3" width="115.60000000000002" height="25.19999999999999" rx="1" fill="#fff" stroke="#8c8c8c" stroke-width="1"/>
<line x1="563.00" y1="484.60" x2="575.90" y2="484.60" stroke="#ff2a2a" stroke-width="1.2" />
<line x1="563.00" y1="493.40" x2="575.90" y2="493.40" stroke="#3a3aff" stroke-width="1" stroke-dasharray="2.2 1.6"/>
<text class="t" x="582.20" y="485.50" font-size="7.0">Number high risk</text>
<text class="t" x="582.20" y="494.30" font-size="7.0">Number high risk with event</text>
<text class="l" x="355.40" y="482.20" font-size="22" text-anchor="middle">f</text>
</svg>
</body></html>
